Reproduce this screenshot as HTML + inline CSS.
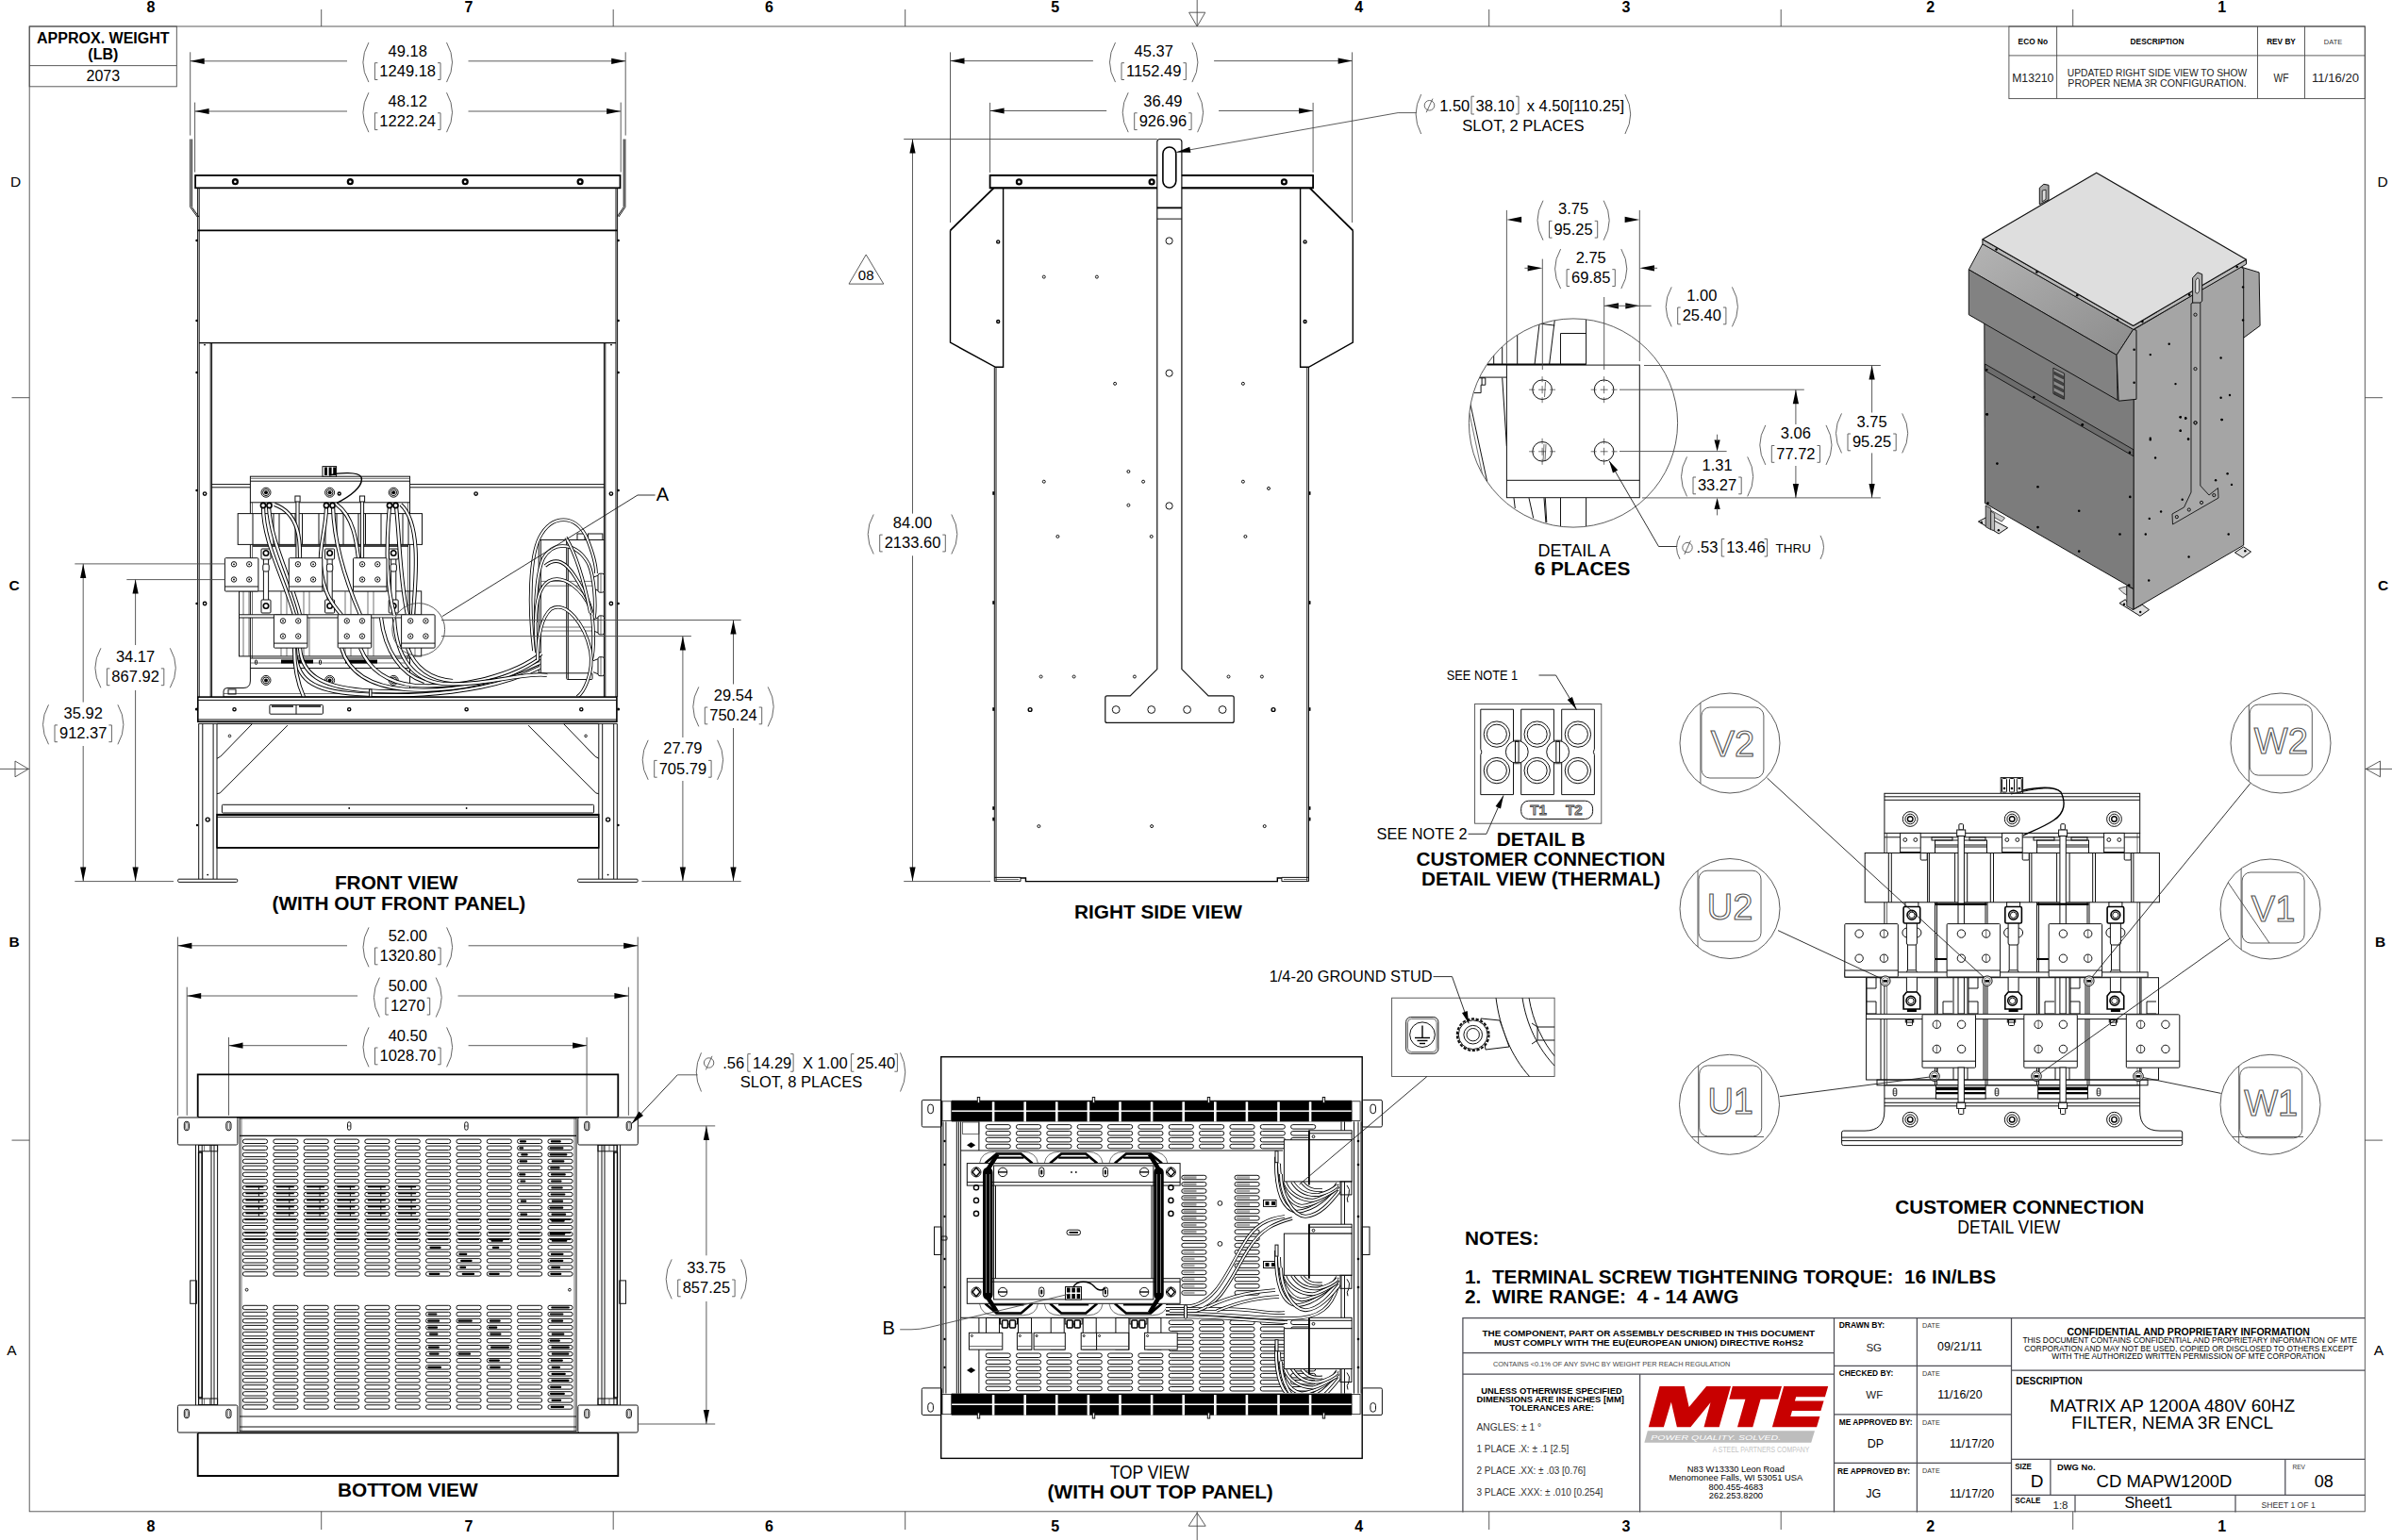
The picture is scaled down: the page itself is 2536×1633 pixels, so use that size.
<!DOCTYPE html><html><head><meta charset="utf-8"><title>CD MAPW1200D</title><style>html,body{margin:0;padding:0;background:#fff}
svg{display:block}
text{font-family:"Liberation Sans",sans-serif}
.o{fill:none;stroke:#111;stroke-width:1}
.h{fill:none;stroke:#000;stroke-width:1.8}
.m{fill:none;stroke:#000;stroke-width:1.4}
.t{fill:none;stroke:#333;stroke-width:.7}
.d{fill:none;stroke:#4a4a4a;stroke-width:.9}
.l{fill:none;stroke:#1a1a1a;stroke-width:.9}
.b{fill:none;stroke:#555;stroke-width:.9}
.a{fill:#000;stroke:none}
.k{fill:#000;stroke:none}
.w{fill:#fff;stroke:none}
.wo{fill:#fff;stroke:#111;stroke-width:1}
.wh{fill:#fff;stroke:#000;stroke-width:1.6}
.ct{fill:none;stroke:#000;stroke-width:4.4;stroke-linecap:round}
.cw{fill:none;stroke:#fff;stroke-width:2.4;stroke-linecap:round}
</style></head><body><svg width="2536" height="1633" viewBox="0 0 2536 1633"><g id="frame"><rect class="d" x="31.2" y="28" width="2476.1" height="1574.8"/><path class="d" d="M340.7 10L340.7 28"/><path class="d" d="M340.7 1602.8L340.7 1622"/><path class="d" d="M650.2 10L650.2 28"/><path class="d" d="M650.2 1602.8L650.2 1622"/><path class="d" d="M959.7 10L959.7 28"/><path class="d" d="M959.7 1602.8L959.7 1622"/><path class="d" d="M1269.2 0L1269.2 28"/><path class="d" d="M1260.6 13.2L1277.8 13.2L1269.2 28Z"/><path class="d" d="M1269.2 1602.8L1269.2 1633"/><path class="d" d="M1260.2 1618.2L1278.2 1618.2L1269.2 1604.3Z"/><path class="d" d="M1578.7 10L1578.7 28"/><path class="d" d="M1578.7 1602.8L1578.7 1622"/><path class="d" d="M1888.2 10L1888.2 28"/><path class="d" d="M1888.2 1602.8L1888.2 1622"/><path class="d" d="M2197.7 10L2197.7 28"/><path class="d" d="M2197.7 1602.8L2197.7 1622"/><path class="d" d="M12.5 421.7L31.2 421.7"/><path class="d" d="M2507.3 421.7L2526 421.7"/><path class="d" d="M0 815.4L31.2 815.4"/><path class="d" d="M16 807L16 823.8L30.2 815.4Z"/><path class="d" d="M2507.3 815.4L2536 815.4"/><path class="d" d="M2523.5 807L2523.5 823.8L2508.3 815.4Z"/><path class="d" d="M12.5 1209.1L31.2 1209.1"/><path class="d" d="M2507.3 1209.1L2526 1209.1"/><text x="160" y="12.8" font-size="16" font-weight="bold" text-anchor="middle">8</text><text x="160" y="1624.3" font-size="16" font-weight="bold" text-anchor="middle">8</text><text x="497" y="12.8" font-size="16" font-weight="bold" text-anchor="middle">7</text><text x="497" y="1624.3" font-size="16" font-weight="bold" text-anchor="middle">7</text><text x="815.5" y="12.8" font-size="16" font-weight="bold" text-anchor="middle">6</text><text x="815.5" y="1624.3" font-size="16" font-weight="bold" text-anchor="middle">6</text><text x="1118.6" y="12.8" font-size="16" font-weight="bold" text-anchor="middle">5</text><text x="1118.6" y="1624.3" font-size="16" font-weight="bold" text-anchor="middle">5</text><text x="1440.7" y="12.8" font-size="16" font-weight="bold" text-anchor="middle">4</text><text x="1440.7" y="1624.3" font-size="16" font-weight="bold" text-anchor="middle">4</text><text x="1724" y="12.8" font-size="16" font-weight="bold" text-anchor="middle">3</text><text x="1724" y="1624.3" font-size="16" font-weight="bold" text-anchor="middle">3</text><text x="2046.7" y="12.8" font-size="16" font-weight="bold" text-anchor="middle">2</text><text x="2046.7" y="1624.3" font-size="16" font-weight="bold" text-anchor="middle">2</text><text x="2355.6" y="12.8" font-size="16" font-weight="bold" text-anchor="middle">1</text><text x="2355.6" y="1624.3" font-size="16" font-weight="bold" text-anchor="middle">1</text><text x="16.5" y="198" font-size="15.5" text-anchor="middle">D</text><text x="2526" y="198" font-size="15.5" text-anchor="middle">D</text><text x="15.2" y="625.5" font-size="15.5" font-weight="bold" text-anchor="middle">C</text><text x="2526.5" y="625.5" font-size="15.5" font-weight="bold" text-anchor="middle">C</text><text x="15.2" y="1003.5" font-size="15.5" font-weight="bold" text-anchor="middle">B</text><text x="2523.7" y="1003.5" font-size="15.5" font-weight="bold" text-anchor="middle">B</text><text x="12.5" y="1436.5" font-size="15.5" text-anchor="middle">A</text><text x="2522" y="1436.5" font-size="15.5" text-anchor="middle">A</text><rect class="d" x="31.2" y="28" width="156.1" height="63.8"/><path class="d" d="M31.2 69.6L187.3 69.6"/><text x="109.3" y="46.4" font-size="16" font-weight="bold" text-anchor="middle">APPROX. WEIGHT</text><text x="109.3" y="62.5" font-size="16" font-weight="bold" text-anchor="middle">(LB)</text><text x="109.3" y="85.7" font-size="16" text-anchor="middle">2073</text><rect class="d" x="2129.9" y="28" width="377.4" height="76.6"/><path class="d" d="M2129.9 58.9L2507.3 58.9"/><path class="d" d="M2180.6 28L2180.6 104.6"/><path class="d" d="M2393.5 28L2393.5 104.6"/><path class="d" d="M2443.5 28L2443.5 104.6"/><text x="2155.3" y="47.1" font-size="8.3" font-weight="bold" text-anchor="middle" textLength="31.4" lengthAdjust="spacingAndGlyphs">ECO No</text><text x="2287" y="47.1" font-size="8.3" font-weight="bold" text-anchor="middle" textLength="56.8" lengthAdjust="spacingAndGlyphs">DESCRIPTION</text><text x="2418.5" y="47.1" font-size="8.3" font-weight="bold" text-anchor="middle" textLength="30.7" lengthAdjust="spacingAndGlyphs">REV BY</text><text x="2473.5" y="47.1" font-size="7.5" text-anchor="middle" textLength="19.3" lengthAdjust="spacingAndGlyphs" fill="#333">DATE</text><text x="2155.3" y="86.8" font-size="12" text-anchor="middle" fill="#222" lengthAdjust="spacingAndGlyphs" textLength="44.3">M13210</text><text x="2287" y="80.7" font-size="11.5" text-anchor="middle" fill="#222" lengthAdjust="spacingAndGlyphs" textLength="190.4">UPDATED RIGHT SIDE VIEW TO SHOW</text><text x="2287" y="92.1" font-size="11.5" text-anchor="middle" fill="#222" lengthAdjust="spacingAndGlyphs" textLength="189.3">PROPER NEMA 3R CONFIGURATION.</text><text x="2418.5" y="86.8" font-size="12" text-anchor="middle" fill="#222" lengthAdjust="spacingAndGlyphs" textLength="16">WF</text><text x="2476" y="86.8" font-size="12" text-anchor="middle" fill="#222" lengthAdjust="spacingAndGlyphs" textLength="50">11/16/20</text></g>
<g id="front"><path class="d" d="M201.7 55.3L201.7 143.6"/><path class="d" d="M663.2 55.3L663.2 143.6"/><path class="d" d="M206.6 108.6L206.6 182.6"/><path class="d" d="M658.2 108.6L658.2 182.6"/><path class="d" d="M201.7 64.8L368 64.8"/><path class="d" d="M496.5 64.8L663.2 64.8"/><path class="a" d="M201.7 64.8L216.7 61.7L216.7 67.9Z"/><path class="a" d="M663.2 64.8L648.2 67.9L648.2 61.7Z"/><path class="d" d="M206.6 118L368 118"/><path class="d" d="M496.5 118L658.2 118"/><path class="a" d="M206.6 118L221.6 114.9L221.6 121.1Z"/><path class="a" d="M658.2 118L643.2 121.1L643.2 114.9Z"/><text x="432.2" y="59.6" font-size="16.5" text-anchor="middle">49.18</text><text x="432.2" y="80.9" font-size="16.5" text-anchor="middle">1249.18</text><path class="b" d="M400.4 66.7H397.4V84.5H400.4"/><path class="b" d="M464 66.7H467V84.5H464"/><path class="b" d="M390.9 45.1Q378.9 66.1 390.9 87.1"/><path class="b" d="M473.5 45.1Q485.5 66.1 473.5 87.1"/><text x="432.2" y="112.7" font-size="16.5" text-anchor="middle">48.12</text><text x="432.2" y="134" font-size="16.5" text-anchor="middle">1222.24</text><path class="b" d="M400.4 119.8H397.4V137.6H400.4"/><path class="b" d="M464 119.8H467V137.6H464"/><path class="b" d="M390.9 98.2Q378.9 119.2 390.9 140.2"/><path class="b" d="M473.5 98.2Q485.5 119.2 473.5 140.2"/><rect class="h" x="207.1" y="186" width="450.4" height="13.3"/><circle class="k" cx="249.4" cy="192.7" r="3.6"/><circle class="w" cx="249.4" cy="192.7" r="1.3"/><circle class="k" cx="371.3" cy="192.7" r="3.6"/><circle class="w" cx="371.3" cy="192.7" r="1.3"/><circle class="k" cx="493.2" cy="192.7" r="3.6"/><circle class="w" cx="493.2" cy="192.7" r="1.3"/><circle class="k" cx="615.1" cy="192.7" r="3.6"/><circle class="w" cx="615.1" cy="192.7" r="1.3"/><path class="o" d="M201.7 147.5L201.7 219.6L209.2 230"/><path class="o" d="M203.4 147.5L203.4 219.6L210.9 230"/><path class="o" d="M662.9 147.5L662.9 219.6L655.9 230"/><path class="o" d="M661.2 147.5L661.2 219.6L654.2 230"/><path class="o" d="M209.6 199.3L209.6 739"/><path class="o" d="M211.2 199.3L211.2 739"/><path class="o" d="M654.6 199.3L654.6 739"/><path class="o" d="M653 199.3L653 739"/><path class="h" d="M209.6 244.3L654.6 244.3"/><path class="m" d="M211 363.6L653 363.6"/><path class="o" d="M223.2 363.6L223.2 739"/><path class="o" d="M224.6 363.6L224.6 739"/><path class="o" d="M641.8 363.6L641.8 739"/><path class="o" d="M640.4 363.6L640.4 739"/><circle class="k" cx="208.6" cy="255" r="1.3"/><circle class="k" cx="655.6" cy="255" r="1.3"/><circle class="k" cx="208.6" cy="340" r="1.3"/><circle class="k" cx="655.6" cy="340" r="1.3"/><circle class="k" cx="208.6" cy="395" r="1.3"/><circle class="k" cx="655.6" cy="395" r="1.3"/><circle class="k" cx="208.6" cy="520" r="1.3"/><circle class="k" cx="655.6" cy="520" r="1.3"/><circle class="k" cx="208.6" cy="640" r="1.3"/><circle class="k" cx="655.6" cy="640" r="1.3"/><circle class="k" cx="217" cy="365.6" r="0.9"/><circle class="k" cx="648" cy="365.6" r="0.9"/><path class="o" d="M224 513.6L265.4 513.6"/><path class="o" d="M434.5 513.6L641 513.6"/><path class="o" d="M224 516.8L265.4 516.8"/><path class="o" d="M434.5 516.8L641 516.8"/><circle class="m" cx="217.1" cy="523.6" r="1.7"/><circle class="m" cx="504.6" cy="523.6" r="1.7"/><circle class="m" cx="647.9" cy="523.6" r="1.7"/><circle class="m" cx="217.1" cy="640" r="1.7"/><circle class="m" cx="647.9" cy="640" r="1.7"/><rect class="wo" x="571.2" y="572.5" width="29.5" height="141.3"/><path class="o" d="M573.3 572.5L573.3 713.8"/><path class="o" d="M600.7 572.5L641 572.5"/><path class="o" d="M602.3 572.5L602.3 720"/><rect class="o" x="600.7" y="713.8" width="27.3" height="6.7" rx="1"/><path class="t" d="M573.3 616.4L630 616.4"/><path class="t" d="M573.3 621.2L630 621.2"/><path class="t" d="M573.3 665L630 665"/><path class="t" d="M573.3 669L630 669"/><rect class="o" x="612" y="566" width="8" height="6.5"/><rect class="o" x="623.4" y="566" width="15.5" height="6.5"/><rect class="wo" x="634" y="608.2" width="6.5" height="20" rx="2"/><path class="o" d="M629 612.2L634 610.2"/><path class="o" d="M629 624.2L634 626.2"/><path class="t" d="M637 608.2L637 628.2"/><rect class="wo" x="634" y="652.9" width="6.5" height="20" rx="2"/><path class="o" d="M629 656.9L634 654.9"/><path class="o" d="M629 668.9L634 670.9"/><path class="t" d="M637 652.9L637 672.9"/><rect class="wo" x="634" y="696.7" width="6.5" height="20" rx="2"/><path class="o" d="M629 700.7L634 698.7"/><path class="o" d="M629 712.7L634 714.7"/><path class="t" d="M637 696.7L637 716.7"/><rect class="wo" x="265.4" y="505.2" width="169.1" height="27.6"/><path class="o" d="M265.4 510.2L434.5 510.2"/><path class="t" d="M265.4 507.3L434.5 507.3"/><rect class="wo" x="342" y="494.6" width="14.6" height="10.6"/><rect class="k" x="344" y="495.5" width="3" height="8.5"/><rect class="k" x="348.6" y="495.5" width="3" height="8.5"/><rect class="k" x="353.2" y="495.5" width="3" height="8.5"/><path class="m" d="M349 504C360 501 380 500 383 506C386 516 370 527 357 533.5"/><circle class="m" cx="359.7" cy="523.5" r="1.5"/><circle class="wo" cx="282" cy="522.2" r="5"/><circle class="wo" cx="282" cy="522.2" r="3.4"/><circle class="k" cx="282" cy="522.2" r="2"/><circle class="wo" cx="349.6" cy="522.2" r="5"/><circle class="wo" cx="349.6" cy="522.2" r="3.4"/><circle class="k" cx="349.6" cy="522.2" r="2"/><circle class="wo" cx="417.2" cy="522.2" r="5"/><circle class="wo" cx="417.2" cy="522.2" r="3.4"/><circle class="k" cx="417.2" cy="522.2" r="2"/><path class="o" d="M265.4 532.8L265.4 698"/><path class="o" d="M434.5 532.8L434.5 698"/><path class="t" d="M267.5 532.8L267.5 698"/><path class="t" d="M432.4 532.8L432.4 698"/><rect class="wo" x="252.2" y="544.6" width="195.3" height="32.8"/><path class="o" d="M268 544.6L268 577.4"/><path class="o" d="M290 544.6L290 577.4"/><path class="o" d="M296 544.6L296 577.4"/><path class="o" d="M313 544.6L313 577.4"/><path class="o" d="M320.5 544.6L320.5 577.4"/><path class="o" d="M338 544.6L338 577.4"/><path class="o" d="M345 544.6L345 577.4"/><path class="o" d="M357 544.6L357 577.4"/><path class="o" d="M364 544.6L364 577.4"/><path class="o" d="M380 544.6L380 577.4"/><path class="o" d="M387.5 544.6L387.5 577.4"/><path class="o" d="M404 544.6L404 577.4"/><path class="o" d="M411 544.6L411 577.4"/><path class="o" d="M427 544.6L427 577.4"/><path class="o" d="M433 544.6L433 577.4"/><path class="m" d="M268 579L433 579"/><rect class="wo" x="313.9" y="528" width="3.2" height="64"/><rect class="wo" x="312.9" y="526" width="5.2" height="6"/><rect class="wo" x="382.4" y="528" width="3.2" height="64"/><rect class="wo" x="381.4" y="526" width="5.2" height="6"/><rect class="o" x="253.5" y="626.9" width="193.2" height="69"/><path class="t" d="M258 627L258 696"/><path class="t" d="M264 627L264 696"/><path class="t" d="M298 627L298 696"/><path class="t" d="M304 627L304 696"/><path class="t" d="M322 627L322 696"/><path class="t" d="M328 627L328 696"/><path class="t" d="M366 627L366 696"/><path class="t" d="M372 627L372 696"/><path class="t" d="M390 627L390 696"/><path class="t" d="M396 627L396 696"/><path class="t" d="M434 627L434 696"/><path class="t" d="M440 627L440 696"/><rect class="wo" x="279.4" y="590" width="5.2" height="52"/><rect class="wo" x="277" y="582" width="10" height="11" rx="1"/><circle class="wh" cx="282" cy="586.5" r="2.7"/><rect class="wo" x="277" y="636" width="10" height="14" rx="1"/><circle class="wh" cx="282" cy="642.5" r="2.7"/><rect class="wo" x="278.8" y="598" width="6.4" height="8" rx="2"/><rect class="wo" x="347" y="590" width="5.2" height="52"/><rect class="wo" x="344.6" y="582" width="10" height="11" rx="1"/><circle class="wh" cx="349.6" cy="586.5" r="2.7"/><rect class="wo" x="344.6" y="636" width="10" height="14" rx="1"/><circle class="wh" cx="349.6" cy="642.5" r="2.7"/><rect class="wo" x="346.4" y="598" width="6.4" height="8" rx="2"/><rect class="wo" x="414.6" y="590" width="5.2" height="52"/><rect class="wo" x="412.2" y="582" width="10" height="11" rx="1"/><circle class="wh" cx="417.2" cy="586.5" r="2.7"/><rect class="wo" x="412.2" y="636" width="10" height="14" rx="1"/><circle class="wh" cx="417.2" cy="642.5" r="2.7"/><rect class="wo" x="414" y="598" width="6.4" height="8" rx="2"/><rect class="wo" x="253.5" y="651.8" width="193.2" height="3.2"/><path class="wo" d="M265.4 698H434.5V739H237V733Q237 729.5 241 729.5H258Q265.4 729.5 265.4 722Z"/><path class="t" d="M265.4 703L434.5 703"/><path class="o" d="M265.4 708.5L434.5 708.5"/><path class="t" d="M237 735.5L434.5 735.5"/><circle class="wo" cx="282" cy="721.4" r="5"/><circle class="wo" cx="282" cy="721.4" r="3.4"/><circle class="k" cx="282" cy="721.4" r="2"/><circle class="wo" cx="349.6" cy="721.4" r="5"/><circle class="wo" cx="349.6" cy="721.4" r="3.4"/><circle class="k" cx="349.6" cy="721.4" r="2"/><circle class="wo" cx="417.2" cy="721.4" r="5"/><circle class="wo" cx="417.2" cy="721.4" r="3.4"/><circle class="k" cx="417.2" cy="721.4" r="2"/><rect class="k" x="298" y="699.5" width="34" height="4"/><rect class="k" x="366" y="699.5" width="34" height="4"/><rect class="o" x="242" y="731" width="8" height="5"/><rect class="o" x="270.5" y="700" width="2" height="4.5" rx="1"/><rect class="o" x="338.5" y="700" width="2" height="4.5" rx="1"/><path d="M279 537C279 575 300 610 312 652" fill="none" stroke="#000" stroke-width="4.2"/><path d="M279 537C279 575 300 610 312 652" fill="none" stroke="#fff" stroke-width="2.3"/><path d="M285 537C287 575 308 612 318 652" fill="none" stroke="#000" stroke-width="4.2"/><path d="M285 537C287 575 308 612 318 652" fill="none" stroke="#fff" stroke-width="2.3"/><path d="M291 535C320 545 318 580 318 592" fill="none" stroke="#000" stroke-width="4.2"/><path d="M291 535C320 545 318 580 318 592" fill="none" stroke="#fff" stroke-width="2.3"/><path d="M346 537C346 560 338 580 340 600C343 630 352 640 362 652" fill="none" stroke="#000" stroke-width="4.2"/><path d="M346 537C346 560 338 580 340 600C343 630 352 640 362 652" fill="none" stroke="#fff" stroke-width="2.3"/><path d="M353 537C354 575 366 615 382 652" fill="none" stroke="#000" stroke-width="4.2"/><path d="M353 537C354 575 366 615 382 652" fill="none" stroke="#fff" stroke-width="2.3"/><path d="M357 535C375 548 378 575 380 592" fill="none" stroke="#000" stroke-width="4.2"/><path d="M357 535C375 548 378 575 380 592" fill="none" stroke="#fff" stroke-width="2.3"/><path d="M413 537C410 570 408 615 418 652" fill="none" stroke="#000" stroke-width="4.2"/><path d="M413 537C410 570 408 615 418 652" fill="none" stroke="#fff" stroke-width="2.3"/><path d="M420 537C424 575 424 615 432 652" fill="none" stroke="#000" stroke-width="4.2"/><path d="M420 537C424 575 424 615 432 652" fill="none" stroke="#fff" stroke-width="2.3"/><path d="M425 535C448 556 440 620 438 652" fill="none" stroke="#000" stroke-width="4.2"/><path d="M425 535C448 556 440 620 438 652" fill="none" stroke="#fff" stroke-width="2.3"/><circle class="wh" cx="279" cy="536" r="2.6"/><circle class="wh" cx="285.5" cy="536" r="2.6"/><circle class="wh" cx="346" cy="536" r="2.6"/><circle class="wh" cx="352.5" cy="536" r="2.6"/><circle class="wh" cx="413" cy="536" r="2.6"/><circle class="wh" cx="419.5" cy="536" r="2.6"/><rect class="wo" x="238.4" y="591.7" width="35.5" height="35.3" rx="1"/><path class="o" d="M238.4 622L273.9 622"/><circle class="wo" cx="248" cy="598.3" r="2.7"/><circle class="k" cx="248" cy="598.3" r="0.9"/><circle class="wo" cx="248" cy="614.5" r="2.7"/><circle class="k" cx="248" cy="614.5" r="0.9"/><circle class="wo" cx="264.2" cy="598.3" r="2.7"/><circle class="k" cx="264.2" cy="598.3" r="0.9"/><circle class="wo" cx="264.2" cy="614.5" r="2.7"/><circle class="k" cx="264.2" cy="614.5" r="0.9"/><rect class="wo" x="306.3" y="591.7" width="35.5" height="35.3" rx="1"/><path class="o" d="M306.3 622L341.8 622"/><circle class="wo" cx="315.9" cy="598.3" r="2.7"/><circle class="k" cx="315.9" cy="598.3" r="0.9"/><circle class="wo" cx="315.9" cy="614.5" r="2.7"/><circle class="k" cx="315.9" cy="614.5" r="0.9"/><circle class="wo" cx="332.1" cy="598.3" r="2.7"/><circle class="k" cx="332.1" cy="598.3" r="0.9"/><circle class="wo" cx="332.1" cy="614.5" r="2.7"/><circle class="k" cx="332.1" cy="614.5" r="0.9"/><rect class="wo" x="374.5" y="591.7" width="35.5" height="35.3" rx="1"/><path class="o" d="M374.5 622L410 622"/><circle class="wo" cx="384.1" cy="598.3" r="2.7"/><circle class="k" cx="384.1" cy="598.3" r="0.9"/><circle class="wo" cx="384.1" cy="614.5" r="2.7"/><circle class="k" cx="384.1" cy="614.5" r="0.9"/><circle class="wo" cx="400.3" cy="598.3" r="2.7"/><circle class="k" cx="400.3" cy="598.3" r="0.9"/><circle class="wo" cx="400.3" cy="614.5" r="2.7"/><circle class="k" cx="400.3" cy="614.5" r="0.9"/><path d="M313 687C313 720 330 733 380 736C440 740 520 735 572 708" fill="none" stroke="#000" stroke-width="4.2"/><path d="M313 687C313 720 330 733 380 736C440 740 520 735 572 708" fill="none" stroke="#fff" stroke-width="2.3"/><path d="M318 687C320 715 340 728 385 732C450 737 520 728 572 703" fill="none" stroke="#000" stroke-width="4.2"/><path d="M318 687C320 715 340 728 385 732C450 737 520 728 572 703" fill="none" stroke="#fff" stroke-width="2.3"/><path d="M362 687C370 715 395 728 430 731C480 735 540 722 572 698" fill="none" stroke="#000" stroke-width="4.2"/><path d="M362 687C370 715 395 728 430 731C480 735 540 722 572 698" fill="none" stroke="#fff" stroke-width="2.3"/><path d="M382 687C392 712 412 724 440 727C490 730 545 716 574 693" fill="none" stroke="#000" stroke-width="4.2"/><path d="M382 687C392 712 412 724 440 727C490 730 545 716 574 693" fill="none" stroke="#fff" stroke-width="2.3"/><path d="M418 655C420 700 440 722 470 725C510 728 560 712 580 716" fill="none" stroke="#000" stroke-width="4.2"/><path d="M418 655C420 700 440 722 470 725C510 728 560 712 580 716" fill="none" stroke="#fff" stroke-width="2.3"/><path d="M432 687C440 708 455 720 480 722" fill="none" stroke="#000" stroke-width="4.2"/><path d="M432 687C440 708 455 720 480 722" fill="none" stroke="#fff" stroke-width="2.3"/><path d="M404 655C408 690 425 715 450 723" fill="none" stroke="#000" stroke-width="4.2"/><path d="M404 655C408 690 425 715 450 723" fill="none" stroke="#fff" stroke-width="2.3"/><path d="M312 687C312 715 318 730 322 739" fill="none" stroke="#000" stroke-width="4.2"/><path d="M312 687C312 715 318 730 322 739" fill="none" stroke="#fff" stroke-width="2.3"/><rect class="wo" x="290.4" y="651.8" width="35.5" height="35.3" rx="1"/><path class="o" d="M290.4 682.1L325.9 682.1"/><circle class="wo" cx="300" cy="658.4" r="2.7"/><circle class="k" cx="300" cy="658.4" r="0.9"/><circle class="wo" cx="300" cy="674.6" r="2.7"/><circle class="k" cx="300" cy="674.6" r="0.9"/><circle class="wo" cx="316.2" cy="658.4" r="2.7"/><circle class="k" cx="316.2" cy="658.4" r="0.9"/><circle class="wo" cx="316.2" cy="674.6" r="2.7"/><circle class="k" cx="316.2" cy="674.6" r="0.9"/><rect class="wo" x="358.2" y="651.8" width="35.5" height="35.3" rx="1"/><path class="o" d="M358.2 682.1L393.7 682.1"/><circle class="wo" cx="367.8" cy="658.4" r="2.7"/><circle class="k" cx="367.8" cy="658.4" r="0.9"/><circle class="wo" cx="367.8" cy="674.6" r="2.7"/><circle class="k" cx="367.8" cy="674.6" r="0.9"/><circle class="wo" cx="384" cy="658.4" r="2.7"/><circle class="k" cx="384" cy="658.4" r="0.9"/><circle class="wo" cx="384" cy="674.6" r="2.7"/><circle class="k" cx="384" cy="674.6" r="0.9"/><rect class="wo" x="425.6" y="651.8" width="35.5" height="35.3" rx="1"/><path class="o" d="M425.6 682.1L461.1 682.1"/><circle class="wo" cx="435.2" cy="658.4" r="2.7"/><circle class="k" cx="435.2" cy="658.4" r="0.9"/><circle class="wo" cx="435.2" cy="674.6" r="2.7"/><circle class="k" cx="435.2" cy="674.6" r="0.9"/><circle class="wo" cx="451.4" cy="658.4" r="2.7"/><circle class="k" cx="451.4" cy="658.4" r="0.9"/><circle class="wo" cx="451.4" cy="674.6" r="2.7"/><circle class="k" cx="451.4" cy="674.6" r="0.9"/><rect class="wo" x="391.5" y="731" width="2.5" height="10"/><path d="M566 690C560 640 562 590 572 570C585 545 610 545 622 570C630 590 632 600 632 608" fill="none" stroke="#000" stroke-width="3.6"/><path d="M566 690C560 640 562 590 572 570C585 545 610 545 622 570C630 590 632 600 632 608" fill="none" stroke="#fff" stroke-width="1.9"/><path d="M569 692C566 650 568 610 576 592C588 572 612 576 624 598C630 612 632 640 630 655" fill="none" stroke="#000" stroke-width="3.6"/><path d="M569 692C566 650 568 610 576 592C588 572 612 576 624 598C630 612 632 640 630 655" fill="none" stroke="#fff" stroke-width="1.9"/><path d="M568 660C568 640 572 622 582 616C598 608 618 626 626 645C630 660 630 690 627 700" fill="none" stroke="#000" stroke-width="3.6"/><path d="M568 660C568 640 572 622 582 616C598 608 618 626 626 645C630 660 630 690 627 700" fill="none" stroke="#fff" stroke-width="1.9"/><path d="M570 700C570 675 574 655 584 646C600 636 620 662 626 690C630 715 618 735 612 739" fill="none" stroke="#000" stroke-width="3.6"/><path d="M570 700C570 675 574 655 584 646C600 636 620 662 626 690C630 715 618 735 612 739" fill="none" stroke="#fff" stroke-width="1.9"/><path d="M578 600C590 590 600 596 610 612C620 628 626 640 628 652" fill="none" stroke="#000" stroke-width="3.6"/><path d="M578 600C590 590 600 596 610 612C620 628 626 640 628 652" fill="none" stroke="#fff" stroke-width="1.9"/><path d="M600 570C612 590 620 620 626 650" fill="none" stroke="#000" stroke-width="3.6"/><path d="M600 570C612 590 620 620 626 650" fill="none" stroke="#fff" stroke-width="1.9"/><rect class="wh" x="209.8" y="739.1" width="444.1" height="26.1"/><path class="o" d="M209.8 742.4L653.9 742.4"/><path class="o" d="M209.8 763L653.9 763"/><path class="o" d="M210.4 767.4L654.3 767.4"/><circle class="m" cx="248.5" cy="752.2" r="1.6"/><circle class="m" cx="370.2" cy="752.2" r="1.6"/><circle class="m" cx="494.6" cy="752.2" r="1.6"/><circle class="m" cx="616.3" cy="752.2" r="1.6"/><rect class="o" x="285.9" y="747.4" width="56.5" height="9.8" rx="1"/><path class="o" d="M314 747.4L314 757.2"/><rect class="k" x="288" y="748.3" width="23" height="1.5"/><rect class="k" x="317" y="748.3" width="23" height="1.5"/><circle class="k" cx="208.3" cy="752" r="1.5"/><circle class="k" cx="655.6" cy="752" r="1.5"/><path class="o" d="M210.7 767.4L210.7 932.2"/><path class="o" d="M214.8 767.4L214.8 932.2"/><path class="o" d="M226.1 767.4L226.1 932.2"/><path class="o" d="M230 767.4L230 932.2"/><path class="o" d="M634.8 767.4L634.8 932.2"/><path class="o" d="M638.7 767.4L638.7 932.2"/><path class="o" d="M650.7 767.4L650.7 932.2"/><path class="o" d="M654.3 767.4L654.3 932.2"/><rect class="o" x="188.7" y="932.2" width="63" height="3.2" rx="1"/><rect class="o" x="612.6" y="932.2" width="63.5" height="3.2" rx="1"/><path class="o" d="M230 767.4L267.6 767.4L233.7 802.2L230 804.3"/><path class="o" d="M305 769.1L233.3 840.9L230 841.7"/><path class="o" d="M634.8 767.4L597.4 767.4L631.1 802.2L634.8 804.3"/><path class="o" d="M560 769.1L631.7 840.9L634.8 841.7"/><circle class="o" cx="243.5" cy="780.4" r="1.3"/><circle class="o" cx="621.1" cy="780.4" r="1.3"/><rect class="o" x="235.4" y="853.3" width="394.2" height="8.7" rx="1"/><rect class="m" x="230" y="863.6" width="404.8" height="35.3"/><path class="o" d="M230 866.3L634.8 866.3"/><path class="h" d="M230 864L634.8 864"/><path class="h" d="M230 898.9L634.8 898.9"/><circle class="k" cx="370.2" cy="857" r="0.9"/><circle class="k" cx="494.6" cy="857" r="0.9"/><circle class="m" cx="220.2" cy="869.1" r="2"/><circle class="k" cx="220.2" cy="927.6" r="0.9"/><circle class="m" cx="644.6" cy="869.1" r="2"/><circle class="k" cx="644.6" cy="927.6" r="0.9"/><circle class="k" cx="209" cy="875" r="1.2"/><circle class="k" cx="655.5" cy="875" r="1.2"/><circle class="d" cx="443.7" cy="667.5" r="27.9"/><path class="l" d="M694.6 525L676 525L468.9 653.6"/><text x="702.5" y="530.6" font-size="20" text-anchor="middle">A</text><path class="d" d="M79.3 597.9L238.6 597.9"/><path class="d" d="M134.3 614.6L238.6 614.6"/><path class="d" d="M79.3 934.6L184 934.6"/><path class="d" d="M88.2 597.9L88.2 744.6"/><path class="d" d="M88.2 791L88.2 934.6"/><path class="a" d="M88.2 597.9L91.3 612.9L85.1 612.9Z"/><path class="a" d="M88.2 934.6L85.1 919.6L91.3 919.6Z"/><path class="d" d="M143.6 614.6L143.6 684"/><path class="d" d="M143.6 732L143.6 934.6"/><path class="a" d="M143.6 614.6L146.7 629.6L140.5 629.6Z"/><path class="a" d="M143.6 934.6L140.5 919.6L146.7 919.6Z"/><text x="143.6" y="701.8" font-size="16.5" text-anchor="middle">34.17</text><text x="143.6" y="723.1" font-size="16.5" text-anchor="middle">867.92</text><path class="b" d="M116.4 708.9H113.4V726.7H116.4"/><path class="b" d="M170.8 708.9H173.8V726.7H170.8"/><path class="b" d="M106.9 687.3Q94.9 708.3 106.9 729.3"/><path class="b" d="M180.3 687.3Q192.3 708.3 180.3 729.3"/><text x="88.2" y="761.8" font-size="16.5" text-anchor="middle">35.92</text><text x="88.2" y="783.1" font-size="16.5" text-anchor="middle">912.37</text><path class="b" d="M61 768.9H58V786.7H61"/><path class="b" d="M115.4 768.9H118.4V786.7H115.4"/><path class="b" d="M51.5 747.3Q39.5 768.3 51.5 789.3"/><path class="b" d="M124.9 747.3Q136.9 768.3 124.9 789.3"/><path class="d" d="M467.9 657.5L785.7 657.5"/><path class="d" d="M467.9 674.6L732.9 674.6"/><path class="d" d="M680.4 934.6L785.7 934.6"/><path class="d" d="M777.5 657.5L777.5 725.5"/><path class="d" d="M777.5 772L777.5 934.6"/><path class="a" d="M777.5 657.5L780.6 672.5L774.4 672.5Z"/><path class="a" d="M777.5 934.6L774.4 919.6L780.6 919.6Z"/><path class="d" d="M723.9 674.6L723.9 782"/><path class="d" d="M723.9 828L723.9 934.6"/><path class="a" d="M723.9 674.6L727 689.6L720.8 689.6Z"/><path class="a" d="M723.9 934.6L720.8 919.6L727 919.6Z"/><text x="777.5" y="742.9" font-size="16.5" text-anchor="middle">29.54</text><text x="777.5" y="764.2" font-size="16.5" text-anchor="middle">750.24</text><path class="b" d="M750.3 750H747.3V767.8H750.3"/><path class="b" d="M804.7 750H807.7V767.8H804.7"/><path class="b" d="M740.8 728.4Q728.8 749.4 740.8 770.4"/><path class="b" d="M814.2 728.4Q826.2 749.4 814.2 770.4"/><text x="723.9" y="799.3" font-size="16.5" text-anchor="middle">27.79</text><text x="723.9" y="820.6" font-size="16.5" text-anchor="middle">705.79</text><path class="b" d="M696.7 806.4H693.7V824.2H696.7"/><path class="b" d="M751.1 806.4H754.1V824.2H751.1"/><path class="b" d="M687.2 784.8Q675.2 805.8 687.2 826.8"/><path class="b" d="M760.6 784.8Q772.6 805.8 760.6 826.8"/><text x="420.2" y="943" font-size="20.8" font-weight="bold" text-anchor="middle">FRONT VIEW</text><text x="422.9" y="965.4" font-size="20.8" font-weight="bold" text-anchor="middle">(WITH OUT FRONT PANEL)</text></g>
<g id="side"><path class="d" d="M1007.5 55.4L1007.5 236"/><path class="d" d="M1433.6 55.4L1433.6 236"/><path class="d" d="M1049.6 108.9L1049.6 182.9"/><path class="d" d="M1392.1 108.9L1392.1 182.9"/><path class="d" d="M1007.5 64.6L1158.9 64.6"/><path class="d" d="M1287.1 64.6L1433.6 64.6"/><path class="a" d="M1007.5 64.6L1022.5 61.5L1022.5 67.7Z"/><path class="a" d="M1433.6 64.6L1418.6 67.7L1418.6 61.5Z"/><path class="d" d="M1049.6 117.5L1173.2 117.5"/><path class="d" d="M1292.1 117.5L1392.1 117.5"/><path class="a" d="M1049.6 117.5L1064.6 114.4L1064.6 120.6Z"/><path class="a" d="M1392.1 117.5L1377.1 120.6L1377.1 114.4Z"/><text x="1223.2" y="59.6" font-size="16.5" text-anchor="middle">45.37</text><text x="1223.2" y="80.9" font-size="16.5" text-anchor="middle">1152.49</text><path class="b" d="M1192 66.7H1189V84.5H1192"/><path class="b" d="M1254.4 66.7H1257.4V84.5H1254.4"/><path class="b" d="M1182.5 45.1Q1170.5 66.1 1182.5 87.1"/><path class="b" d="M1263.9 45.1Q1275.9 66.1 1263.9 87.1"/><text x="1232.9" y="112.7" font-size="16.5" text-anchor="middle">36.49</text><text x="1232.9" y="134" font-size="16.5" text-anchor="middle">926.96</text><path class="b" d="M1205.7 119.8H1202.7V137.6H1205.7"/><path class="b" d="M1260.1 119.8H1263.1V137.6H1260.1"/><path class="b" d="M1196.2 98.2Q1184.2 119.2 1196.2 140.2"/><path class="b" d="M1269.6 98.2Q1281.6 119.2 1269.6 140.2"/><rect class="h" x="1049.6" y="186" width="342.5" height="13.3"/><circle class="k" cx="1080.4" cy="192.9" r="3.6"/><circle class="w" cx="1080.4" cy="192.9" r="1.3"/><circle class="k" cx="1221.1" cy="192.9" r="3.6"/><circle class="w" cx="1221.1" cy="192.9" r="1.3"/><circle class="k" cx="1361.4" cy="192.9" r="3.6"/><circle class="w" cx="1361.4" cy="192.9" r="1.3"/><path class="h" d="M1053.6 199.3L1007.5 244.3"/><path class="m" d="M1007.5 244.3L1007.5 363.2L1055.4 389.3L1063.6 389.3L1063.6 199.3"/><path class="h" d="M1388.6 199.3L1434.3 244.3"/><path class="m" d="M1434.3 244.3L1434.3 363.2L1387.5 389.3L1378.6 389.3L1378.6 199.3"/><circle class="m" cx="1058.2" cy="256.4" r="1.5"/><circle class="m" cx="1383.6" cy="256.4" r="1.5"/><circle class="m" cx="1058.2" cy="341" r="1.5"/><circle class="m" cx="1383.6" cy="341" r="1.5"/><path class="o" d="M1054.3 389.3L1054.3 934.6"/><path class="o" d="M1056 389.3L1056 934.6"/><path class="o" d="M1387.5 389.3L1387.5 934.6"/><path class="o" d="M1385.8 389.3L1385.8 934.6"/><path class="o" d="M1054.3 930.4L1082 930.4L1082 934.6L1054.3 934.6"/><path class="t" d="M1056 932.5L1080 932.5"/><path class="o" d="M1387.5 930.4L1358.9 930.4L1358.9 934.6L1387.5 934.6"/><path class="t" d="M1361 932.5L1386 932.5"/><path class="m" d="M1082 931L1087.5 931L1087.5 934.6L1354.3 934.6L1354.3 931L1358.9 931"/><rect class="k" x="1052.3" y="521.2" width="2" height="3.6"/><rect class="k" x="1387.5" y="521.2" width="2" height="3.6"/><rect class="k" x="1052.3" y="637.2" width="2" height="3.6"/><rect class="k" x="1387.5" y="637.2" width="2" height="3.6"/><rect class="k" x="1052.3" y="750.2" width="2" height="3.6"/><rect class="k" x="1387.5" y="750.2" width="2" height="3.6"/><rect class="k" x="1052.3" y="855.2" width="2" height="3.6"/><rect class="k" x="1387.5" y="855.2" width="2" height="3.6"/><rect class="k" x="1052.3" y="866.8" width="2" height="3.6"/><rect class="k" x="1387.5" y="866.8" width="2" height="3.6"/><path class="wo" style="stroke-width:1.2" d="M1226.8 709.6V150.5Q1226.8 147.5 1229.8 147.5H1249.9Q1252.9 147.5 1252.9 150.5V709.6L1281.1 737.9H1306.2Q1308.2 737.9 1308.2 739.9V764.4Q1308.2 766.4 1306.2 766.4H1173.8Q1171.8 766.4 1171.8 764.4V739.9Q1171.8 737.9 1173.8 737.9H1198.2Z"/><path class="h" d="M1049.6 186L1226.8 186"/><path class="h" d="M1049.6 199.3L1226.8 199.3"/><path class="h" d="M1252.9 186L1392.1 186"/><path class="h" d="M1252.9 199.3L1392.1 199.3"/><rect class="wh" x="1232.9" y="156" width="13.9" height="43" rx="6.9"/><path class="h" d="M1226.8 220.4L1252.9 220.4"/><path class="o" d="M1226.8 232.1L1252.9 232.1"/><circle class="o" cx="1239.6" cy="255.4" r="3.6"/><circle class="o" cx="1239.6" cy="395.7" r="3.6"/><circle class="o" cx="1239.6" cy="536.4" r="3.6"/><circle class="o" cx="1183.2" cy="752.5" r="3.9"/><circle class="o" cx="1220.7" cy="752.5" r="3.9"/><circle class="o" cx="1258.6" cy="752.5" r="3.9"/><circle class="o" cx="1296.1" cy="752.5" r="3.9"/><circle class="o" cx="1106.8" cy="293.6" r="1.5"/><circle class="o" cx="1162.9" cy="293.6" r="1.5"/><circle class="o" cx="1182.1" cy="406.8" r="1.5"/><circle class="o" cx="1317.9" cy="406.8" r="1.5"/><circle class="o" cx="1196.4" cy="500" r="1.5"/><circle class="o" cx="1106.8" cy="510.7" r="1.5"/><circle class="o" cx="1212.1" cy="510.7" r="1.5"/><circle class="o" cx="1317.9" cy="510.7" r="1.5"/><circle class="o" cx="1345" cy="517.9" r="1.5"/><circle class="o" cx="1196.4" cy="535.7" r="1.5"/><circle class="o" cx="1121.4" cy="568.9" r="1.5"/><circle class="o" cx="1220.7" cy="568.9" r="1.5"/><circle class="o" cx="1320.4" cy="568.9" r="1.5"/><circle class="o" cx="1103.6" cy="717.5" r="1.5"/><circle class="o" cx="1138.6" cy="717.5" r="1.5"/><circle class="o" cx="1202.9" cy="717.5" r="1.5"/><circle class="o" cx="1302.5" cy="717.5" r="1.5"/><circle class="o" cx="1337.9" cy="717.5" r="1.5"/><circle class="o" cx="1101.4" cy="876.1" r="1.5"/><circle class="o" cx="1221.1" cy="876.1" r="1.5"/><circle class="o" cx="1340.7" cy="876.1" r="1.5"/><circle class="m" cx="1092.1" cy="752.5" r="1.9"/><circle class="m" cx="1350" cy="752.5" r="1.9"/><path class="d" d="M958.2 147.5L1226.8 147.5"/><path class="d" d="M958.2 934.6L1050 934.6"/><path class="d" d="M967.5 147.5L967.5 544.6"/><path class="d" d="M967.5 589.3L967.5 934.6"/><path class="a" d="M967.5 147.5L970.6 162.5L964.4 162.5Z"/><path class="a" d="M967.5 934.6L964.4 919.6L970.6 919.6Z"/><text x="967.5" y="560" font-size="16.5" text-anchor="middle">84.00</text><text x="967.5" y="581.3" font-size="16.5" text-anchor="middle">2133.60</text><path class="b" d="M935.7 567.1H932.7V584.9H935.7"/><path class="b" d="M999.3 567.1H1002.3V584.9H999.3"/><path class="b" d="M926.2 545.5Q914.2 566.5 926.2 587.5"/><path class="b" d="M1008.8 545.5Q1020.8 566.5 1008.8 587.5"/><path class="d" d="M918.2 270L900 301.1L936.8 301.1Z"/><text x="918.2" y="297.3" font-size="15" text-anchor="middle">08</text><path class="d" d="M1247.1 161.4L1482.1 119.6L1501.8 119.6"/><path class="a" d="M1247.1 161.4L1261.3 155.7L1262.4 161.8Z"/><path class="b" d="M1506.7 100.1Q1495.5 121 1506.7 142"/><path class="b" d="M1722.9 100.1Q1734.5 121 1722.9 142"/><circle class="b" cx="1515.5" cy="111.8" r="5.3"/><path class="b" d="M1512.2 119.2L1519 104.6"/><text x="1526.2" y="117.5" font-size="16.5">1.50</text><text x="1564.5" y="117.5" font-size="16.5">38.10</text><path class="b" d="M1563 102.2H1560V121H1563M1607 102.2H1610V121H1607"/><text x="1618.7" y="117.5" font-size="16.5">x 4.50[110.25]</text><text x="1614.8" y="138.5" font-size="16.5" text-anchor="middle">SLOT, 2 PLACES</text><text x="1227.9" y="973.9" font-size="20.8" font-weight="bold" text-anchor="middle">RIGHT SIDE VIEW</text></g>
<g id="detaila"><clipPath id="ca"><circle cx="1668" cy="448.5" r="110.6"/></clipPath><g clip-path="url(#ca)"><path class="h" d="M1576.7 386.5L1681.6 386.5"/><path class="o" d="M1608.7 355.4L1608.7 386.5"/><path class="o" d="M1632.3 341.3L1627 386.5"/><path class="o" d="M1648.3 339.4L1642.6 386.5"/><path class="o" d="M1681.6 337.5L1681.6 386.5"/><path class="o" d="M1583.7 375.2L1583.7 386.5"/><path class="o" d="M1592.7 367.7L1592.7 386.5"/><path class="o" d="M1654.5 386.5L1654.5 353.5L1681.6 353.5"/><path class="o" d="M1632.3 343.2L1648.3 345.1"/><path class="o" d="M1558.8 400.1L1597.4 400.1"/><path class="o" d="M1568.2 400.8L1574.8 400.8L1574.8 408.2L1570.1 408.2L1570.1 416.6L1562.6 416.6"/><path class="o" d="M1571.1 400.8L1571.1 408.2"/><path class="o" d="M1558.8 427.9L1576.7 510.8"/><path class="t" d="M1557.3 435.5L1573.9 513.6"/><path class="o" d="M1592.7 400.6L1597.4 473.1"/><path class="o" d="M1654.5 527.7L1654.5 558.8"/><path class="o" d="M1681.6 527.7L1681.6 558.8"/><path class="o" d="M1605 528.1L1606.3 539"/><path class="o" d="M1621 528.1L1625.7 549.4"/><path class="o" d="M1637 528.1L1638.9 554.1"/><path class="o" d="M1638.3 528.1L1639.8 554.1"/></g><circle class="d" cx="1668" cy="448.5" r="110.6"/><rect class="wo" x="1597.4" y="387.1" width="140.9" height="140.6"/><path class="o" d="M1597.4 509.3L1738.3 509.3"/><circle class="o" cx="1635.1" cy="413.2" r="10.3"/><path class="t" d="M1621.1 413.2L1627.1 413.2"/><path class="t" d="M1631.1 413.2L1639.1 413.2"/><path class="t" d="M1643.1 413.2L1649.1 413.2"/><path class="t" d="M1635.1 399.2L1635.1 405.2"/><path class="t" d="M1635.1 409.2L1635.1 417.2"/><path class="t" d="M1635.1 421.2L1635.1 427.2"/><circle class="o" cx="1635.1" cy="478.8" r="10.3"/><path class="t" d="M1621.1 478.8L1627.1 478.8"/><path class="t" d="M1631.1 478.8L1639.1 478.8"/><path class="t" d="M1643.1 478.8L1649.1 478.8"/><path class="t" d="M1635.1 464.8L1635.1 470.8"/><path class="t" d="M1635.1 474.8L1635.1 482.8"/><path class="t" d="M1635.1 486.8L1635.1 492.8"/><circle class="o" cx="1700.6" cy="413.2" r="10.3"/><path class="t" d="M1686.6 413.2L1692.6 413.2"/><path class="t" d="M1696.6 413.2L1704.6 413.2"/><path class="t" d="M1708.6 413.2L1714.6 413.2"/><path class="t" d="M1700.6 399.2L1700.6 405.2"/><path class="t" d="M1700.6 409.2L1700.6 417.2"/><path class="t" d="M1700.6 421.2L1700.6 427.2"/><circle class="o" cx="1700.6" cy="478.8" r="10.3"/><path class="t" d="M1686.6 478.8L1692.6 478.8"/><path class="t" d="M1696.6 478.8L1704.6 478.8"/><path class="t" d="M1708.6 478.8L1714.6 478.8"/><path class="t" d="M1700.6 464.8L1700.6 470.8"/><path class="t" d="M1700.6 474.8L1700.6 482.8"/><path class="t" d="M1700.6 486.8L1700.6 492.8"/><path class="t" d="M1638.5 405L1637.5 421"/><path class="t" d="M1637 471L1636 489"/><path class="t" d="M1639 471L1638 489"/><path class="d" d="M1597.4 222.9L1597.4 386"/><path class="d" d="M1738.3 222.9L1738.3 383"/><path class="d" d="M1635.3 274.6L1635.3 392"/><path class="d" d="M1700.7 315L1700.7 392"/><path class="a" d="M1597.4 232.9L1613.1 229.8L1613.1 236Z"/><path class="a" d="M1738.3 232.9L1722.6 236L1722.6 229.8Z"/><text x="1668.1" y="227.2" font-size="16.5" text-anchor="middle">3.75</text><text x="1668.1" y="248.5" font-size="16.5" text-anchor="middle">95.25</text><path class="b" d="M1645.5 234.3H1642.5V252.1H1645.5"/><path class="b" d="M1690.7 234.3H1693.7V252.1H1690.7"/><path class="b" d="M1636 212.7Q1624 233.7 1636 254.7"/><path class="b" d="M1700.2 212.7Q1712.2 233.7 1700.2 254.7"/><path class="a" d="M1635.3 284.3L1619.6 287.4L1619.6 281.2Z"/><path class="d" d="M1616.4 284.3L1622 284.3"/><path class="a" d="M1738.3 284.3L1754 281.2L1754 287.4Z"/><path class="d" d="M1752 284.3L1757.1 284.3"/><text x="1686.7" y="278.6" font-size="16.5" text-anchor="middle">2.75</text><text x="1686.7" y="299.9" font-size="16.5" text-anchor="middle">69.85</text><path class="b" d="M1664.1 285.7H1661.1V303.5H1664.1"/><path class="b" d="M1709.3 285.7H1712.3V303.5H1709.3"/><path class="b" d="M1654.6 264.1Q1642.6 285.1 1654.6 306.1"/><path class="b" d="M1718.8 264.1Q1730.8 285.1 1718.8 306.1"/><path class="a" d="M1700.7 324.3L1716 321.2L1716 327.4Z"/><path class="a" d="M1738.3 324.3L1723.3 327.4L1723.3 321.2Z"/><path class="d" d="M1700.7 324.3L1750.7 324.3"/><text x="1804.3" y="318.9" font-size="16.5" text-anchor="middle">1.00</text><text x="1804.3" y="340.2" font-size="16.5" text-anchor="middle">25.40</text><path class="b" d="M1781.7 326H1778.7V343.8H1781.7"/><path class="b" d="M1826.9 326H1829.9V343.8H1826.9"/><path class="b" d="M1772.2 304.4Q1760.2 325.4 1772.2 346.4"/><path class="b" d="M1836.4 304.4Q1848.4 325.4 1836.4 346.4"/><path class="d" d="M1743 387.5L1993.9 387.5"/><path class="d" d="M1717 413.2L1912.8 413.2"/><path class="d" d="M1717 478.6L1830.6 478.6"/><path class="d" d="M1741 527.9L1993.9 527.9"/><path class="d" d="M1984.6 387.5L1984.6 437.5"/><path class="d" d="M1984.6 480.4L1984.6 527.9"/><path class="a" d="M1984.6 387.5L1987.7 402.5L1981.5 402.5Z"/><path class="a" d="M1984.6 527.9L1981.5 512.9L1987.7 512.9Z"/><text x="1984.6" y="452.9" font-size="16.5" text-anchor="middle">3.75</text><text x="1984.6" y="474.2" font-size="16.5" text-anchor="middle">95.25</text><path class="b" d="M1962 460H1959V477.8H1962"/><path class="b" d="M2007.2 460H2010.2V477.8H2007.2"/><path class="b" d="M1952.5 438.4Q1940.5 459.4 1952.5 480.4"/><path class="b" d="M2016.7 438.4Q2028.7 459.4 2016.7 480.4"/><path class="d" d="M1903.9 413.2L1903.9 450"/><path class="d" d="M1903.9 494L1903.9 527.9"/><path class="a" d="M1903.9 413.2L1907 428.2L1900.8 428.2Z"/><path class="a" d="M1903.9 527.9L1900.8 512.9L1907 512.9Z"/><text x="1903.9" y="465.4" font-size="16.5" text-anchor="middle">3.06</text><text x="1903.9" y="486.7" font-size="16.5" text-anchor="middle">77.72</text><path class="b" d="M1881.3 472.5H1878.3V490.3H1881.3"/><path class="b" d="M1926.5 472.5H1929.5V490.3H1926.5"/><path class="b" d="M1871.8 450.9Q1859.8 471.9 1871.8 492.9"/><path class="b" d="M1936 450.9Q1948 471.9 1936 492.9"/><path class="a" d="M1820.6 478.6L1817.5 466.6L1823.7 466.6Z"/><path class="d" d="M1820.6 460.7L1820.6 468"/><path class="a" d="M1820.6 527.9L1823.7 539.9L1817.5 539.9Z"/><path class="d" d="M1820.6 539L1820.6 546.4"/><text x="1820.6" y="498.9" font-size="16.5" text-anchor="middle">1.31</text><text x="1820.6" y="520.2" font-size="16.5" text-anchor="middle">33.27</text><path class="b" d="M1798 506H1795V523.8H1798"/><path class="b" d="M1843.2 506H1846.2V523.8H1843.2"/><path class="b" d="M1788.5 484.4Q1776.5 505.4 1788.5 526.4"/><path class="b" d="M1852.7 484.4Q1864.7 505.4 1852.7 526.4"/><path class="l" d="M1706.1 488.8L1758.5 579.5L1778.2 579.5"/><path class="a" d="M1706.1 488.8L1715.2 498.6L1710 501.6Z"/><path class="b" d="M1781 567.9Q1774 580.4 1781 592.9M1930 567.9Q1937 580.4 1930 592.9"/><circle class="b" cx="1789" cy="580.6" r="5.2"/><path class="b" d="M1785.8 588L1792.4 573.4"/><text x="1798.5" y="586.4" font-size="16.5">.53</text><text x="1830.3" y="586.4" font-size="16.5">13.46</text><path class="b" d="M1828.3 571.5H1825.3V590H1828.3M1870.6 571.5H1873.6V590H1870.6"/><text x="1882.4" y="586.4" font-size="13.5">THRU</text><text x="1669" y="589.5" font-size="18" text-anchor="middle">DETAIL A</text><text x="1677.5" y="610" font-size="20.8" font-weight="bold" text-anchor="middle">6 PLACES</text></g>
<g id="iso"><defs><linearGradient id="hg" x1="0" y1="0" x2="1" y2="1"><stop offset="0" stop-color="#b4b4b4"/><stop offset="1" stop-color="#8c8c8c"/></linearGradient></defs><path d="M2162.3 216.8L2162.3 199.2L2166.8 195.3L2172 196.3L2172 211.9Z" fill="#a8a8a8" stroke="#111" stroke-width="1" stroke-linejoin="round"/><path d="M2165.2 213.8L2165.2 202.1L2169.1 201.2L2169.1 211.3Z" fill="#dedede" stroke="#111" stroke-width="0.8" stroke-linejoin="round"/><path d="M2097.4 553.1L2119.2 565.9L2128.6 559.7L2106.8 548.1Z" fill="#ddd" stroke="#111" stroke-width="1" stroke-linejoin="round"/><path d="M2111.4 541.4L2125.5 549.2L2122.3 553.1L2111.4 546.9Z" fill="#ccc" stroke="#111" stroke-width="0.7" stroke-linejoin="round"/><path d="M2105.2 536L2110.7 539.1L2110.7 561.7L2105.2 558.6Z" fill="#999" stroke="#111" stroke-width="0.8" stroke-linejoin="round"/><path d="M2110.7 542.2L2114.6 544.6L2114.6 562.5L2110.7 561.7Z" fill="#bbb" stroke="#111" stroke-width="0.7" stroke-linejoin="round"/><path d="M2369.4 585.9L2378 591.3L2386.5 585.1L2378.7 579.9Z" fill="#ddd" stroke="#111" stroke-width="1" stroke-linejoin="round"/><path d="M2247 639.6L2268.9 653.2L2278.5 646.6L2271.2 641.2L2261.1 646.6L2253.3 635.7Z" fill="#ddd" stroke="#111" stroke-width="1" stroke-linejoin="round"/><path d="M2246.3 624L2254.8 621.7L2254.8 631.1L2250.9 628.7Z" fill="#ddd" stroke="#111" stroke-width="0.7" stroke-linejoin="round"/><path d="M2254.8 620.9L2261.8 624.8L2261.8 646.6L2254.8 642.7Z" fill="#999" stroke="#111" stroke-width="0.8" stroke-linejoin="round"/><circle class="k" cx="2118.9" cy="562.2" r="1.2"/><circle class="k" cx="2100.8" cy="553.9" r="1.2"/><circle class="k" cx="2380.3" cy="584.3" r="1.2"/><circle class="k" cx="2269.2" cy="649" r="1.2"/><circle class="k" cx="2252" cy="640.7" r="1.2"/><path d="M2375.6 283L2395.1 288.9L2396.1 345.4L2377.6 359L2375.6 357Z" fill="#a4a4a4" stroke="#111" stroke-width="1" stroke-linejoin="round"/><path d="M2103.8 335L2262.6 420L2262.2 624.5L2104.4 533.6Z" fill="#7c7c7c" stroke="#111" stroke-width="1" stroke-linejoin="round"/><path d="M2104.6 386L2262 476.8L2262 483.8L2104.6 393Z" fill="#6c6c6c" stroke="#111" stroke-width="0.9" stroke-linejoin="round"/><path d="M2262.2 349.5L2375.6 283L2378.7 285L2378.7 578.1L2262.2 646Z" fill="#a5a5a5" stroke="#111" stroke-width="1" stroke-linejoin="round"/><path d="M2323 322L2332.8 316.5L2332.8 515L2342 525L2351.5 517.5L2352 528L2303.5 556L2303 545L2315.5 538L2323 522Z" fill="#a9a9a9" stroke="#111" stroke-width="0.9" stroke-linejoin="round"/><path d="M2101.9 258.7L2261.7 349.3L2244.1 376.5L2087.3 285.9Z" fill="url(#hg)" stroke="#111" stroke-width="1" stroke-linejoin="round"/><path d="M2087.3 285.9L2244.1 376.5L2245.1 424.3L2087.3 333.7Z" fill="#828282" stroke="#111" stroke-width="1" stroke-linejoin="round"/><path d="M2261.7 349.3L2265 350.2L2265 423.3L2246.1 425.2L2244.1 376.5Z" fill="#a2a2a2" stroke="#111" stroke-width="1" stroke-linejoin="round"/><path d="M2176.9 390.2L2188.6 396L2188.6 423.3L2176.9 417.4Z" fill="#8a8a8a" stroke="#111" stroke-width="0.8" stroke-linejoin="round"/><path d="M2177.9 394.1L2187.6 398.9L2187.6 401.9L2177.9 397Z" fill="#444" stroke="#111" stroke-width="0.4" stroke-linejoin="round"/><path d="M2177.9 401.1L2187.6 406L2187.6 408.9L2177.9 404Z" fill="#444" stroke="#111" stroke-width="0.4" stroke-linejoin="round"/><path d="M2177.9 408.1L2187.6 413L2187.6 415.9L2177.9 411Z" fill="#444" stroke="#111" stroke-width="0.4" stroke-linejoin="round"/><path d="M2177.9 415.1L2187.6 420L2187.6 422.9L2177.9 418Z" fill="#444" stroke="#111" stroke-width="0.4" stroke-linejoin="round"/><path d="M2101.9 253.8L2101.9 258.7L2261.7 349.3L2381.5 280.1L2381.5 275.2L2261.7 345.4Z" fill="#b8b8b8" stroke="#111" stroke-width="1" stroke-linejoin="round"/><path d="M2222.7 183.2L2381.5 275.2L2261.7 345.4L2101.9 253.8Z" fill="#dedede" stroke="#111" stroke-width="1.2" stroke-linejoin="round"/><path d="M2324.6 321L2324.6 294.7L2329.9 288.9L2334.7 290.8L2334.7 319.1L2332.8 321Z" fill="#b0b0b0" stroke="#111" stroke-width="1" stroke-linejoin="round"/><path d="M2327.7 310.3L2327.7 297.6L2329.7 294.7L2331.6 296.3L2331.6 308.7L2329.7 311.3Z" fill="#dedede" stroke="#111" stroke-width="0.8" stroke-linejoin="round"/><circle class="k" cx="2116.5" cy="264.5" r="1.3"/><circle class="k" cx="2159.4" cy="288.5" r="1.3"/><circle class="k" cx="2202.2" cy="313.2" r="1.3"/><circle class="k" cx="2245.1" cy="339.1" r="1.3"/><circle class="k" cx="2271.4" cy="341.1" r="1.3"/><circle class="k" cx="2321.1" cy="312.6" r="1.3"/><circle class="k" cx="2371.7" cy="283" r="1.3"/><circle class="k" cx="2106.8" cy="439.4" r="1.3"/><circle class="k" cx="2117.4" cy="491.6" r="1.3"/><circle class="k" cx="2160.5" cy="516.2" r="1.3"/><circle class="k" cx="2204.2" cy="541.8" r="1.3"/><circle class="k" cx="2160.5" cy="559.1" r="1.3"/><circle class="k" cx="2204.2" cy="584.6" r="1.3"/><circle class="k" cx="2247.5" cy="566.5" r="1.3"/><circle class="k" cx="2258.3" cy="526.9" r="1.3"/><circle class="k" cx="2207.8" cy="450.3" r="1.3"/><circle class="k" cx="2257.9" cy="479.9" r="1.3"/><circle class="k" cx="2107.5" cy="533.6" r="1.3"/><circle class="k" cx="2257.2" cy="620.5" r="1.3"/><circle class="k" cx="2279.8" cy="464.8" r="1.2"/><circle class="k" cx="2285.1" cy="485.5" r="1.2"/><circle class="k" cx="2291.1" cy="542.5" r="1.2"/><circle class="k" cx="2278.8" cy="549.9" r="1.2"/><circle class="k" cx="2274.8" cy="566.5" r="1.2"/><circle class="k" cx="2278.2" cy="615.5" r="1.2"/><circle class="k" cx="2320.6" cy="590.5" r="1.2"/><circle class="k" cx="2362.7" cy="566.5" r="1.2"/><circle class="k" cx="2366" cy="513.9" r="1.2"/><circle class="k" cx="2361.6" cy="502.2" r="1.2"/><circle class="k" cx="2349.1" cy="509.3" r="1.2"/><circle class="k" cx="2355.4" cy="445" r="1.2"/><circle class="k" cx="2311.7" cy="442.2" r="1.2"/><circle class="k" cx="2317.2" cy="443.2" r="1.2"/><circle class="k" cx="2311.7" cy="456.8" r="1.2"/><circle class="k" cx="2320" cy="465.5" r="1.2"/><circle class="k" cx="2313.7" cy="529.8" r="1.2"/><circle class="k" cx="2299.7" cy="364.8" r="1.2"/><circle class="k" cx="2279.8" cy="376.1" r="1.2"/><circle class="k" cx="2354.6" cy="379.5" r="1.2"/><circle class="k" cx="2306.5" cy="407.1" r="1.2"/><circle class="k" cx="2364" cy="419" r="1.2"/><circle class="k" cx="2354.6" cy="421.7" r="1.2"/><circle class="k" cx="2311.7" cy="442.2" r="1.2"/><circle class="k" cx="2317.2" cy="443.8" r="1.2"/><circle class="k" cx="2355.8" cy="445.1" r="1.2"/><circle class="k" cx="2311.7" cy="456.8" r="1.2"/><circle class="k" cx="2279.8" cy="466.2" r="1.2"/><circle class="k" cx="2320.1" cy="465.8" r="1.2"/><circle class="k" cx="2378" cy="304.4" r="1.2"/><circle class="k" cx="2378" cy="339.5" r="1.2"/><circle class="k" cx="2262.6" cy="370.7" r="1.2"/><circle class="k" cx="2262.6" cy="405.8" r="1.2"/><circle class="k" cx="2106.4" cy="392.1" r="1.2"/><circle class="k" cx="2106.4" cy="439.3" r="1.2"/><circle class="k" cx="2156.4" cy="421" r="1.2"/><circle class="k" cx="2207.7" cy="450.6" r="1.2"/><circle class="o" cx="2327.5" cy="333.7" r="1.6"/><circle class="o" cx="2327.5" cy="391.1" r="1.6"/><circle class="o" cx="2327.5" cy="448.2" r="1.6"/><circle class="o" cx="2327.6" cy="448.4" r="1.6"/><circle class="o" cx="2307.8" cy="548.1" r="1.6"/><circle class="o" cx="2320.8" cy="540.5" r="1.6"/><circle class="o" cx="2334" cy="532.9" r="1.6"/><circle class="o" cx="2347.3" cy="525.1" r="1.6"/></g>
<g id="detailb"><rect class="d" x="1563.6" y="746.5" width="134.2" height="126.7"/><path class="o" d="M1569.8 752.2H1604.5V794.3Q1602.4 797.3 1604.5 800.5V842.6H1569.8V800.5Q1571.9 797.3 1569.8 794.3Z" stroke-linejoin="round"/><path class="o" d="M1612.7 752.2H1647.4V794.3Q1645.3 797.3 1647.4 800.5V842.6H1612.7V800.5Q1614.8 797.3 1612.7 794.3Z" stroke-linejoin="round"/><path class="o" d="M1655.7 752.2H1690.4V794.3Q1688.3 797.3 1690.4 800.5V842.6H1655.7V800.5Q1657.8 797.3 1655.7 794.3Z" stroke-linejoin="round"/><circle class="wo" cx="1608.3" cy="797.3" r="11.9"/><rect class="o" x="1606.5" y="786.4" width="3.6" height="21.9"/><path class="t" d="M1604.3 785L1612.3 785"/><path class="t" d="M1604.3 809.8L1612.3 809.8"/><circle class="wo" cx="1651.6" cy="797.3" r="11.9"/><rect class="o" x="1649.8" y="786.4" width="3.6" height="21.9"/><path class="t" d="M1647.6 785L1655.6 785"/><path class="t" d="M1647.6 809.8L1655.6 809.8"/><circle class="wo" cx="1586.9" cy="778.6" r="13.7"/><circle class="o" cx="1586.9" cy="778.6" r="10.5"/><circle class="wo" cx="1586.9" cy="817.1" r="13.7"/><circle class="o" cx="1586.9" cy="817.1" r="10.5"/><circle class="wo" cx="1629.7" cy="778.6" r="13.7"/><circle class="o" cx="1629.7" cy="778.6" r="10.5"/><circle class="wo" cx="1629.7" cy="817.1" r="13.7"/><circle class="o" cx="1629.7" cy="817.1" r="10.5"/><circle class="wo" cx="1672.9" cy="778.6" r="13.7"/><circle class="o" cx="1672.9" cy="778.6" r="10.5"/><circle class="wo" cx="1672.9" cy="817.1" r="13.7"/><circle class="o" cx="1672.9" cy="817.1" r="10.5"/><rect class="o" x="1612.7" y="849.2" width="75.9" height="19.3" rx="8"/><text x="1631.1" y="863.9" font-size="15" font-weight="bold" text-anchor="middle" fill="#bbb" stroke="#444" stroke-width="0.8">T1</text><text x="1668.8" y="863.9" font-size="15" font-weight="bold" text-anchor="middle" fill="#bbb" stroke="#444" stroke-width="0.8">T2</text><text x="1533.8" y="721.2" font-size="15" textLength="75.4" lengthAdjust="spacingAndGlyphs">SEE NOTE 1</text><path class="l" d="M1631.5 716L1649.5 716L1671.5 752.6"/><path class="a" d="M1671.5 752.6L1661.7 742.1L1666.9 739.1Z"/><text x="1459.6" y="889.5" font-size="16.5" textLength="96.1" lengthAdjust="spacingAndGlyphs">SEE NOTE 2</text><path class="l" d="M1556.6 884.3L1575.9 884.3L1594 843.4"/><path class="a" d="M1594 843.4L1591 857.4L1585.6 855Z"/><text x="1633.7" y="896.9" font-size="20.8" font-weight="bold" text-anchor="middle">DETAIL B</text><text x="1633.5" y="918" font-size="20.8" font-weight="bold" text-anchor="middle">CUSTOMER CONNECTION</text><text x="1633.7" y="938.6" font-size="20.8" font-weight="bold" text-anchor="middle">DETAIL VIEW (THERMAL)</text></g>
<g id="conn"><rect class="wo" x="2121.2" y="824.6" width="23.4" height="16.7"/><rect class="o" x="2122.5" y="825.5" width="5" height="14.5" rx="1"/><circle class="k" cx="2125" cy="836" r="1.3"/><rect class="o" x="2130.5" y="825.5" width="5" height="14.5" rx="1"/><circle class="k" cx="2133" cy="836" r="1.3"/><rect class="o" x="2138.3" y="825.5" width="5" height="14.5" rx="1"/><circle class="k" cx="2140.8" cy="836" r="1.3"/><rect class="wo" x="1997.9" y="841.3" width="270.8" height="42.1"/><path class="o" d="M1997.9 844.8L2268.7 844.8"/><path class="o" d="M1997.9 848.3L2268.7 848.3"/><path class="m" d="M2144.6 838C2160 835 2178 833 2185 840C2190 850 2190 862 2177 870C2165 878 2152 882 2145 886"/><path class="o" d="M2132 842C2150 838 2165 835 2175 836"/><circle class="wo" cx="2025.2" cy="868.5" r="7.9"/><circle class="o" cx="2025.2" cy="868.5" r="5.3"/><circle class="m" cx="2025.2" cy="868.5" r="2.8"/><circle class="wo" cx="2133.2" cy="868.5" r="7.9"/><circle class="o" cx="2133.2" cy="868.5" r="5.3"/><circle class="m" cx="2133.2" cy="868.5" r="2.8"/><circle class="wo" cx="2241.5" cy="868.5" r="7.9"/><circle class="o" cx="2241.5" cy="868.5" r="5.3"/><circle class="m" cx="2241.5" cy="868.5" r="2.8"/><path class="o" d="M1997.9 887.8L2268.7 887.8"/><path class="o" d="M1997.9 883.4L1997.9 1150.8"/><path class="o" d="M2268.7 883.4L2268.7 1150.8"/><path class="t" d="M2000.5 883.4L2000.5 1150.8"/><path class="t" d="M2266 883.4L2266 1150.8"/><rect class="wo" x="2076.9" y="873.7" width="4.6" height="6.3" rx="1"/><rect class="wo" x="2074.7" y="880" width="9" height="6.5"/><rect class="wo" x="2184.8" y="873.7" width="4.6" height="6.3" rx="1"/><rect class="wo" x="2182.6" y="880" width="9" height="6.5"/><rect class="wo" x="2014.6" y="883.4" width="21.6" height="20.2"/><circle class="o" cx="2019.8" cy="890.5" r="1.9"/><circle class="o" cx="2030.8" cy="890.5" r="1.9"/><path class="t" d="M2014.6 899L2036.2 899"/><rect class="wo" x="2122.6" y="883.4" width="21.6" height="20.2"/><circle class="o" cx="2127.8" cy="890.5" r="1.9"/><circle class="o" cx="2138.8" cy="890.5" r="1.9"/><path class="t" d="M2122.6 899L2144.2 899"/><rect class="wo" x="2230.6" y="883.4" width="21.6" height="20.2"/><circle class="o" cx="2235.8" cy="890.5" r="1.9"/><circle class="o" cx="2246.8" cy="890.5" r="1.9"/><path class="t" d="M2230.6 899L2252.2 899"/><rect class="o" x="2048" y="887.8" width="22" height="3.2"/><rect class="o" x="2088" y="887.8" width="17" height="3.2"/><rect class="o" x="2156" y="887.8" width="22" height="3.2"/><rect class="o" x="2196" y="887.8" width="17" height="3.2"/><rect class="o" x="2051.5" y="891" width="55" height="13.5"/><path class="o" d="M2051.5 896L2106.5 896"/><path class="o" d="M2051.5 898L2106.5 898"/><rect class="o" x="2159.5" y="891" width="55" height="13.5"/><path class="o" d="M2159.5 896L2214.5 896"/><path class="o" d="M2159.5 898L2214.5 898"/><rect class="wo" x="1977.2" y="904.5" width="312.2" height="52.3"/><path class="o" d="M2002.3 904.5L2002.3 956.8"/><path class="o" d="M2005.3 904.5L2005.3 956.8"/><path class="o" d="M2043.6 904.5L2043.6 956.8"/><path class="o" d="M2045.4 904.5L2045.4 956.8"/><path class="o" d="M2072.6 904.5L2072.6 956.8"/><path class="o" d="M2085.7 904.5L2085.7 956.8"/><path class="o" d="M2110.3 904.5L2110.3 956.8"/><path class="o" d="M2113.5 904.5L2113.5 956.8"/><path class="o" d="M2151.6 904.5L2151.6 956.8"/><path class="o" d="M2153.9 904.5L2153.9 956.8"/><path class="o" d="M2180.6 904.5L2180.6 956.8"/><path class="o" d="M2194.1 904.5L2194.1 956.8"/><path class="o" d="M2218.7 904.5L2218.7 956.8"/><path class="o" d="M2221.5 904.5L2221.5 956.8"/><path class="o" d="M2259.6 904.5L2259.6 956.8"/><path class="o" d="M2261.9 904.5L2261.9 956.8"/><rect class="wo" x="2036.2" y="904.5" width="7" height="7.5" rx="1"/><rect class="wo" x="2144.2" y="904.5" width="7" height="7.5" rx="1"/><rect class="wo" x="2252.2" y="904.5" width="7" height="7.5" rx="1"/><rect class="wo" x="2076" y="886.5" width="6.4" height="188.5"/><rect class="wo" x="2183.9" y="886.5" width="6.4" height="188.5"/><path class="o" d="M2051.5 956.8L2051.5 1150"/><path class="o" d="M2053.5 956.8L2053.5 1150"/><path class="o" d="M2105 956.8L2105 1150"/><path class="o" d="M2107 956.8L2107 1150"/><path class="o" d="M2159.5 956.8L2159.5 1150"/><path class="o" d="M2161.5 956.8L2161.5 1150"/><path class="o" d="M2213 956.8L2213 1150"/><path class="o" d="M2215 956.8L2215 1150"/><rect class="k" x="2051.5" y="957.5" width="55" height="2.5"/><rect class="k" x="2159.5" y="957.5" width="55" height="2.5"/><rect class="k" x="2052" y="1016" width="12" height="2"/><rect class="k" x="2160" y="1016" width="12" height="2"/><rect class="o" x="1978.6" y="1036.7" width="309.9" height="108.3"/><path class="o" d="M1994 1036.7L1994 1145"/><path class="o" d="M2054 1036.7L2054 1145"/><path class="o" d="M2071 1036.7L2071 1145"/><path class="o" d="M2086 1036.7L2086 1145"/><path class="o" d="M2103 1036.7L2103 1145"/><path class="o" d="M2162 1036.7L2162 1145"/><path class="o" d="M2179 1036.7L2179 1145"/><path class="o" d="M2194 1036.7L2194 1145"/><path class="o" d="M2211 1036.7L2211 1145"/><path class="o" d="M2270 1036.7L2270 1145"/><path class="o" d="M1979 1036.7L1979 1075L1989 1075L1989 1062L1979 1062"/><path class="o" d="M1979 1048L1989 1048"/><path class="o" d="M1989 1036.7L1989 1048"/><path class="o" d="M2087 1036.7L2087 1075L2097 1075L2097 1062L2087 1062"/><path class="o" d="M2087 1048L2097 1048"/><path class="o" d="M2097 1036.7L2097 1048"/><path class="o" d="M2195 1036.7L2195 1075L2205 1075L2205 1062L2195 1062"/><path class="o" d="M2195 1048L2205 1048"/><path class="o" d="M2205 1036.7L2205 1048"/><path class="o" d="M2070 1075L2060 1075L2060 1062L2070 1062"/><path class="o" d="M2178 1075L2168 1075L2168 1062L2178 1062"/><path class="o" d="M2286 1075L2276 1075L2276 1062L2286 1062"/><rect class="wo" x="2019.9" y="956.8" width="14" height="8.2"/><rect class="wo" x="2022.5" y="990" width="8.8" height="60"/><circle class="o" cx="2021.9" cy="989" r="5"/><circle class="o" cx="2031.9" cy="989" r="5"/><rect class="wo" x="2021.4" y="975" width="11" height="27" rx="2"/><rect class="wh" x="2018.1" y="961.5" width="17.6" height="17.5" rx="1.5"/><circle class="wh" cx="2026.9" cy="970.3" r="4.9"/><circle class="o" cx="2026.9" cy="970.3" r="3.2"/><rect class="wo" x="2021.4" y="1028.8" width="11" height="23.2" rx="2"/><path class="wh" d="M2021.4 1052L2018.1 1056V1070H2035.7V1056L2032.4 1052Z"/><circle class="wh" cx="2025.9" cy="1061.3" r="4.9"/><circle class="o" cx="2025.9" cy="1061.3" r="3.2"/><rect class="k" x="2021.9" y="1070" width="10" height="3"/><rect class="wo" x="2127.6" y="956.8" width="14" height="8.2"/><rect class="wo" x="2130.2" y="990" width="8.8" height="60"/><circle class="o" cx="2129.6" cy="989" r="5"/><circle class="o" cx="2139.6" cy="989" r="5"/><rect class="wo" x="2129.1" y="975" width="11" height="27" rx="2"/><rect class="wh" x="2125.8" y="961.5" width="17.6" height="17.5" rx="1.5"/><circle class="wh" cx="2134.6" cy="970.3" r="4.9"/><circle class="o" cx="2134.6" cy="970.3" r="3.2"/><rect class="wo" x="2129.1" y="1028.8" width="11" height="23.2" rx="2"/><path class="wh" d="M2129.1 1052L2125.8 1056V1070H2143.4V1056L2140.1 1052Z"/><circle class="wh" cx="2133.6" cy="1061.3" r="4.9"/><circle class="o" cx="2133.6" cy="1061.3" r="3.2"/><rect class="k" x="2129.6" y="1070" width="10" height="3"/><rect class="wo" x="2235.9" y="956.8" width="14" height="8.2"/><rect class="wo" x="2238.5" y="990" width="8.8" height="60"/><circle class="o" cx="2237.9" cy="989" r="5"/><circle class="o" cx="2247.9" cy="989" r="5"/><rect class="wo" x="2237.4" y="975" width="11" height="27" rx="2"/><rect class="wh" x="2234.1" y="961.5" width="17.6" height="17.5" rx="1.5"/><circle class="wh" cx="2242.9" cy="970.3" r="4.9"/><circle class="o" cx="2242.9" cy="970.3" r="3.2"/><rect class="wo" x="2237.4" y="1028.8" width="11" height="23.2" rx="2"/><path class="wh" d="M2237.4 1052L2234.1 1056V1070H2251.7V1056L2248.4 1052Z"/><circle class="wh" cx="2241.9" cy="1061.3" r="4.9"/><circle class="o" cx="2241.9" cy="1061.3" r="3.2"/><rect class="k" x="2237.9" y="1070" width="10" height="3"/><rect class="wo" x="1955.8" y="1030.9" width="321.3" height="5.3"/><rect class="wo" x="1955.8" y="979.6" width="56.5" height="56.4" rx="1"/><path class="o" d="M1955.8 1029L2012.3 1029"/><circle class="wo" cx="1971.1" cy="990.1" r="4.2"/><circle class="wo" cx="1971.1" cy="1016.2" r="4.2"/><circle class="wo" cx="1997.4" cy="990.1" r="4.2"/><path class="t" d="M1997.4 985.9L1997.4 994.3"/><circle class="wo" cx="1997.4" cy="1016.2" r="4.2"/><path class="t" d="M1997.4 1012L1997.4 1020.4"/><rect class="wo" x="2064.1" y="979.6" width="56.5" height="56.4" rx="1"/><path class="o" d="M2064.1 1029L2120.6 1029"/><circle class="wo" cx="2079.4" cy="990.1" r="4.2"/><circle class="wo" cx="2079.4" cy="1016.2" r="4.2"/><circle class="wo" cx="2105.7" cy="990.1" r="4.2"/><path class="t" d="M2105.7 985.9L2105.7 994.3"/><circle class="wo" cx="2105.7" cy="1016.2" r="4.2"/><path class="t" d="M2105.7 1012L2105.7 1020.4"/><rect class="wo" x="2172.1" y="979.6" width="56.5" height="56.4" rx="1"/><path class="o" d="M2172.1 1029L2228.6 1029"/><circle class="wo" cx="2187.4" cy="990.1" r="4.2"/><circle class="wo" cx="2187.4" cy="1016.2" r="4.2"/><circle class="wo" cx="2213.7" cy="990.1" r="4.2"/><path class="t" d="M2213.7 985.9L2213.7 994.3"/><circle class="wo" cx="2213.7" cy="1016.2" r="4.2"/><path class="t" d="M2213.7 1012L2213.7 1020.4"/><circle class="wo" cx="1998.8" cy="1040.2" r="5.3"/><circle class="t" cx="1998.8" cy="1040.2" r="3.6"/><rect class="k" x="1996.4" y="1039" width="4.8" height="2.6"/><circle class="wo" cx="2106.8" cy="1040.2" r="5.3"/><circle class="t" cx="2106.8" cy="1040.2" r="3.6"/><rect class="k" x="2104.4" y="1039" width="4.8" height="2.6"/><circle class="wo" cx="2214.8" cy="1040.2" r="5.3"/><circle class="t" cx="2214.8" cy="1040.2" r="3.6"/><rect class="k" x="2212.4" y="1039" width="4.8" height="2.6"/><rect class="wo" x="1978.6" y="1075.3" width="309.9" height="5.3"/><rect class="wo" x="2021.5" y="1080.6" width="6" height="6.9" rx="1"/><rect class="o" x="2020.3" y="1081.5" width="8.4" height="2.5"/><rect class="wo" x="2129.5" y="1080.6" width="6" height="6.9" rx="1"/><rect class="o" x="2128.3" y="1081.5" width="8.4" height="2.5"/><rect class="wo" x="2237.5" y="1080.6" width="6" height="6.9" rx="1"/><rect class="o" x="2236.3" y="1081.5" width="8.4" height="2.5"/><rect class="wo" x="2038" y="1075.8" width="56.5" height="56.4" rx="1"/><path class="o" d="M2038 1125.2L2094.5 1125.2"/><circle class="wo" cx="2053.3" cy="1086.3" r="4.2"/><path class="t" d="M2053.3 1082.1L2053.3 1090.5"/><circle class="wo" cx="2053.3" cy="1112.4" r="4.2"/><path class="t" d="M2053.3 1108.2L2053.3 1116.6"/><circle class="wo" cx="2079.6" cy="1086.3" r="4.2"/><circle class="wo" cx="2079.6" cy="1112.4" r="4.2"/><rect class="wo" x="2145.8" y="1075.8" width="56.5" height="56.4" rx="1"/><path class="o" d="M2145.8 1125.2L2202.3 1125.2"/><circle class="wo" cx="2161.1" cy="1086.3" r="4.2"/><path class="t" d="M2161.1 1082.1L2161.1 1090.5"/><circle class="wo" cx="2161.1" cy="1112.4" r="4.2"/><path class="t" d="M2161.1 1108.2L2161.1 1116.6"/><circle class="wo" cx="2187.4" cy="1086.3" r="4.2"/><circle class="wo" cx="2187.4" cy="1112.4" r="4.2"/><rect class="wo" x="2254.3" y="1075.8" width="56.5" height="56.4" rx="1"/><path class="o" d="M2254.3 1125.2L2310.8 1125.2"/><circle class="wo" cx="2269.6" cy="1086.3" r="4.2"/><path class="t" d="M2269.6 1082.1L2269.6 1090.5"/><circle class="wo" cx="2269.6" cy="1112.4" r="4.2"/><path class="t" d="M2269.6 1108.2L2269.6 1116.6"/><circle class="wo" cx="2295.9" cy="1086.3" r="4.2"/><circle class="wo" cx="2295.9" cy="1112.4" r="4.2"/><circle class="wo" cx="2051" cy="1141.2" r="5.3"/><circle class="t" cx="2051" cy="1141.2" r="3.6"/><rect class="k" x="2048.6" y="1140" width="4.8" height="2.6"/><circle class="wo" cx="2159" cy="1141.2" r="5.3"/><circle class="t" cx="2159" cy="1141.2" r="3.6"/><rect class="k" x="2156.6" y="1140" width="4.8" height="2.6"/><circle class="wo" cx="2267" cy="1141.2" r="5.3"/><circle class="t" cx="2267" cy="1141.2" r="3.6"/><rect class="k" x="2264.6" y="1140" width="4.8" height="2.6"/><path class="wo" d="M1997.9 1150.8H2268.7V1178Q2268.7 1199.1 2290 1199.1H2311.7Q2313.7 1199.1 2313.7 1201V1212.6Q2313.7 1214.6 2311.7 1214.6H1954.6Q1952.6 1214.6 1952.6 1212.6V1201Q1952.6 1199.1 1954.6 1199.1H1977Q1997.9 1199.1 1997.9 1178Z"/><path class="o" d="M1952.6 1206.1L2313.7 1206.1"/><path class="o" d="M1952.6 1209.6L2313.7 1209.6"/><path class="o" d="M1997.9 1164.9L2268.7 1164.9"/><path class="o" d="M1997.9 1169.3L2268.7 1169.3"/><path class="o" d="M1997.9 1172.8L2268.7 1172.8"/><rect class="o" x="1990" y="1145" width="287" height="5.8"/><rect class="wo" x="2052.4" y="1150.8" width="52.7" height="14.2"/><rect class="k" x="2052.4" y="1152.6" width="52.7" height="3.5"/><rect class="k" x="2052.4" y="1158" width="52.7" height="2.3"/><rect class="wo" x="2160.7" y="1150.8" width="52.7" height="14.2"/><rect class="k" x="2160.7" y="1152.6" width="52.7" height="3.5"/><rect class="k" x="2160.7" y="1158" width="52.7" height="2.3"/><rect class="wo" x="2076" y="1132" width="6.4" height="37"/><rect class="wo" x="2074.7" y="1169.3" width="9" height="6.2"/><rect class="wo" x="2076.6" y="1175.5" width="5.2" height="6" rx="1"/><rect class="wo" x="2183.9" y="1132" width="6.4" height="37"/><rect class="wo" x="2182.6" y="1169.3" width="9" height="6.2"/><rect class="wo" x="2184.5" y="1175.5" width="5.2" height="6" rx="1"/><rect class="o" x="2007.2" y="1154" width="3.6" height="8" rx="1.8"/><path class="t" d="M2007.2 1157L2010.8 1157"/><path class="t" d="M2007.2 1159.3L2010.8 1159.3"/><rect class="o" x="2115.2" y="1154" width="3.6" height="8" rx="1.8"/><path class="t" d="M2115.2 1157L2118.8 1157"/><path class="t" d="M2115.2 1159.3L2118.8 1159.3"/><rect class="o" x="2223.2" y="1154" width="3.6" height="8" rx="1.8"/><path class="t" d="M2223.2 1157L2226.8 1157"/><path class="t" d="M2223.2 1159.3L2226.8 1159.3"/><circle class="wo" cx="2025.2" cy="1187.2" r="7.9"/><circle class="o" cx="2025.2" cy="1187.2" r="5.3"/><circle class="m" cx="2025.2" cy="1187.2" r="2.8"/><circle class="wo" cx="2133.2" cy="1187.2" r="7.9"/><circle class="o" cx="2133.2" cy="1187.2" r="5.3"/><circle class="m" cx="2133.2" cy="1187.2" r="2.8"/><circle class="wo" cx="2241.5" cy="1187.2" r="7.9"/><circle class="o" cx="2241.5" cy="1187.2" r="5.3"/><circle class="m" cx="2241.5" cy="1187.2" r="2.8"/><path class="l" d="M1873.5 825L2103.5 1036.5"/><path class="l" d="M2386 830.4L2218 1036"/><path class="l" d="M1885 986.6L1994.5 1037.7"/><path class="l" d="M2364.2 995.2L2163.2 1138"/><path class="l" d="M1886.9 1162.7L2046 1142"/><path class="l" d="M2354.7 1159.4L2272 1142.5"/><clipPath id="cV2"><circle cx="1834" cy="788" r="53"/></clipPath><g clip-path="url(#cV2)"><path class="d" d="M1802.9 728L1802.9 848"/><rect class="d" x="1803.9" y="750" width="66" height="75" rx="9"/></g><circle class="d" cx="1834" cy="788" r="53"/><text x="1836.9" y="801.5" font-size="38" text-anchor="middle" style="fill:#fff;stroke:#555;stroke-width:1.1">V2</text><clipPath id="cW2"><circle cx="2418" cy="788" r="53"/></clipPath><g clip-path="url(#cW2)"><path class="d" d="M2384.3 728L2384.3 848"/><rect class="d" x="2385.3" y="747.1" width="66" height="75" rx="9"/></g><circle class="d" cx="2418" cy="788" r="53"/><text x="2418.3" y="798.6" font-size="38" text-anchor="middle" style="fill:#fff;stroke:#555;stroke-width:1.1">W2</text><clipPath id="cU2"><circle cx="1834" cy="963.5" r="53"/></clipPath><g clip-path="url(#cU2)"><path class="d" d="M1800 903.5L1800 1023.5"/><rect class="d" x="1801" y="923.2" width="66" height="75" rx="9"/></g><circle class="d" cx="1834" cy="963.5" r="53"/><text x="1834" y="974.7" font-size="38" text-anchor="middle" style="fill:#fff;stroke:#555;stroke-width:1.1">U2</text><clipPath id="cV1"><circle cx="2407" cy="964" r="53"/></clipPath><g clip-path="url(#cV1)"><path class="d" d="M2376.1 904L2376.1 1024"/><path class="d" d="M2361 934L2406 1000"/><rect class="d" x="2377.1" y="925" width="66" height="75" rx="9"/></g><circle class="d" cx="2407" cy="964" r="53"/><text x="2410.1" y="976.5" font-size="38" text-anchor="middle" style="fill:#fff;stroke:#555;stroke-width:1.1">V1</text><clipPath id="cU1"><circle cx="1833.5" cy="1171.3" r="53"/></clipPath><g clip-path="url(#cU1)"><path class="d" d="M1800.7 1111.3L1800.7 1231.3"/><path class="d" d="M1780 1205.5L1870 1205.5"/><rect class="d" x="1801.7" y="1129.9" width="66" height="75" rx="9"/></g><circle class="d" cx="1833.5" cy="1171.3" r="53"/><text x="1834.7" y="1181.4" font-size="38" text-anchor="middle" style="fill:#fff;stroke:#555;stroke-width:1.1">U1</text><clipPath id="cW1"><circle cx="2407" cy="1171.3" r="53"/></clipPath><g clip-path="url(#cW1)"><path class="d" d="M2373.7 1111.3L2373.7 1231.3"/><path class="d" d="M2360 1205.5L2442 1205.5"/><rect class="d" x="2374.7" y="1131.8" width="66" height="75" rx="9"/></g><circle class="d" cx="2407" cy="1171.3" r="53"/><text x="2407.7" y="1183.3" font-size="38" text-anchor="middle" style="fill:#fff;stroke:#555;stroke-width:1.1">W1</text><text x="2141.3" y="1286.9" font-size="20.8" font-weight="bold" text-anchor="middle">CUSTOMER CONNECTION</text><text x="2129.8" y="1308.4" font-size="19.5" text-anchor="middle" textLength="109" lengthAdjust="spacingAndGlyphs">DETAIL VIEW</text></g>
<g id="bottom"><path class="d" d="M188.4 993.5L188.4 1182.8"/><path class="d" d="M676.2 993.5L676.2 1182.8"/><path class="d" d="M198.2 1046.7L198.2 1182.8"/><path class="d" d="M666.4 1046.7L666.4 1182.8"/><path class="d" d="M242.5 1099.9L242.5 1182.8"/><path class="d" d="M622.1 1099.9L622.1 1182.8"/><path class="d" d="M188.4 1002.8L368 1002.8"/><path class="d" d="M496.6 1002.8L676.2 1002.8"/><path class="a" d="M188.4 1002.8L203.4 999.7L203.4 1005.9Z"/><path class="a" d="M676.2 1002.8L661.2 1005.9L661.2 999.7Z"/><path class="d" d="M198.2 1056L379.1 1056"/><path class="d" d="M485.5 1056L666.4 1056"/><path class="a" d="M198.2 1056L213.2 1052.9L213.2 1059.1Z"/><path class="a" d="M666.4 1056L651.4 1059.1L651.4 1052.9Z"/><path class="d" d="M242.5 1108.7L368 1108.7"/><path class="d" d="M496.6 1108.7L622.1 1108.7"/><path class="a" d="M242.5 1108.7L257.5 1105.6L257.5 1111.8Z"/><path class="a" d="M622.1 1108.7L607.1 1111.8L607.1 1105.6Z"/><text x="432.3" y="997.9" font-size="16.5" text-anchor="middle">52.00</text><text x="432.3" y="1019.2" font-size="16.5" text-anchor="middle">1320.80</text><path class="b" d="M400.5 1005H397.5V1022.8H400.5"/><path class="b" d="M464.1 1005H467.1V1022.8H464.1"/><path class="b" d="M391 983.4Q379 1004.4 391 1025.4"/><path class="b" d="M473.6 983.4Q485.6 1004.4 473.6 1025.4"/><text x="432.3" y="1051.1" font-size="16.5" text-anchor="middle">50.00</text><text x="432.3" y="1072.4" font-size="16.5" text-anchor="middle">1270</text><path class="b" d="M411.9 1058.2H408.9V1076H411.9"/><path class="b" d="M452.7 1058.2H455.7V1076H452.7"/><path class="b" d="M402.4 1036.6Q390.4 1057.6 402.4 1078.6"/><path class="b" d="M462.2 1036.6Q474.2 1057.6 462.2 1078.6"/><text x="432.3" y="1103.9" font-size="16.5" text-anchor="middle">40.50</text><text x="432.3" y="1125.2" font-size="16.5" text-anchor="middle">1028.70</text><path class="b" d="M400.5 1111H397.5V1128.8H400.5"/><path class="b" d="M464.1 1111H467.1V1128.8H464.1"/><path class="b" d="M391 1089.4Q379 1110.4 391 1131.4"/><path class="b" d="M473.6 1089.4Q485.6 1110.4 473.6 1131.4"/><path class="h" d="M209.7 1184.3L209.7 1139.3L655.3 1139.3L655.3 1184.3"/><path class="h" d="M209.7 1519.8L209.7 1565L655.3 1565L655.3 1519.8"/><path class="h" d="M209.7 1184.8L655.3 1184.8"/><path class="h" d="M209.7 1519.4L655.3 1519.4"/><path class="o" d="M207.5 1214L207.5 1490"/><path class="o" d="M210.6 1214L210.6 1490"/><path class="o" d="M214.2 1214L214.2 1490"/><path class="o" d="M224 1214L224 1490"/><path class="o" d="M227 1214L227 1490"/><path class="o" d="M230.6 1214L230.6 1490"/><path class="o" d="M657.6 1214L657.6 1490"/><path class="o" d="M654.5 1214L654.5 1490"/><path class="o" d="M650.9 1214L650.9 1490"/><path class="o" d="M641 1214L641 1490"/><path class="o" d="M638 1214L638 1490"/><path class="o" d="M634 1214L634 1490"/><rect class="m" x="210.6" y="1222" width="3.6" height="260"/><rect class="m" x="650.9" y="1222" width="3.6" height="260"/><rect class="o" x="210.6" y="1214.3" width="20" height="6.5"/><path class="t" d="M216.6 1214.3L216.6 1220.8"/><path class="t" d="M222.6 1214.3L222.6 1220.8"/><rect class="o" x="634" y="1214.3" width="20" height="6.5"/><path class="t" d="M640 1214.3L640 1220.8"/><path class="t" d="M646 1214.3L646 1220.8"/><rect class="o" x="210.6" y="1483" width="20" height="6.5"/><path class="t" d="M216.6 1483L216.6 1489.5"/><path class="t" d="M222.6 1483L222.6 1489.5"/><rect class="o" x="634" y="1483" width="20" height="6.5"/><path class="t" d="M640 1483L640 1489.5"/><path class="t" d="M646 1483L646 1489.5"/><rect class="o" x="201.7" y="1357.9" width="6.7" height="24.4"/><rect class="o" x="656.8" y="1357.9" width="6.7" height="24.4"/><rect class="wo" x="254.1" y="1185.9" width="356.9" height="331.7"/><path class="m" d="M254.1 1204.4L611 1204.4"/><path class="t" d="M256 1185.9L256 1517.6"/><path class="t" d="M609 1185.9L609 1517.6"/><path class="o" d="M254.1 1502L611 1502"/><path class="o" d="M254.1 1513L611 1513"/><rect class="o" x="368.5" y="1189.8" width="3.4" height="8.4" rx="1.7"/><path class="t" d="M368.5 1194L371.9 1194"/><rect class="o" x="492.7" y="1189.8" width="3.4" height="8.4" rx="1.7"/><path class="t" d="M492.7 1194L496.1 1194"/><circle class="o" cx="261.6" cy="1367.7" r="1.4"/><circle class="o" cx="603.9" cy="1367.7" r="1.4"/><defs><g id="sc" class="o"><rect y="1208.1" width="26.2" height="4.4" rx="2.2"/><rect y="1215.1" width="26.2" height="4.4" rx="2.2"/><rect y="1222.2" width="26.2" height="4.4" rx="2.2"/><rect y="1229.2" width="26.2" height="4.4" rx="2.2"/><rect y="1236.2" width="26.2" height="4.4" rx="2.2"/><rect y="1243.2" width="26.2" height="4.4" rx="2.2"/><rect y="1250.3" width="26.2" height="4.4" rx="2.2"/><rect y="1257.3" width="26.2" height="4.4" rx="2.2"/><rect y="1264.3" width="26.2" height="4.4" rx="2.2"/><rect y="1271.4" width="26.2" height="4.4" rx="2.2"/><rect y="1278.4" width="26.2" height="4.4" rx="2.2"/><rect y="1285.4" width="26.2" height="4.4" rx="2.2"/><rect y="1292.5" width="26.2" height="4.4" rx="2.2"/><rect y="1299.5" width="26.2" height="4.4" rx="2.2"/><rect y="1306.5" width="26.2" height="4.4" rx="2.2"/><rect y="1313.5" width="26.2" height="4.4" rx="2.2"/><rect y="1320.6" width="26.2" height="4.4" rx="2.2"/><rect y="1327.6" width="26.2" height="4.4" rx="2.2"/><rect y="1334.6" width="26.2" height="4.4" rx="2.2"/><rect y="1341.7" width="26.2" height="4.4" rx="2.2"/><rect y="1348.7" width="26.2" height="4.4" rx="2.2"/><rect y="1384.3" width="26.2" height="4.4" rx="2.2"/><rect y="1391.3" width="26.2" height="4.4" rx="2.2"/><rect y="1398.4" width="26.2" height="4.4" rx="2.2"/><rect y="1405.4" width="26.2" height="4.4" rx="2.2"/><rect y="1412.4" width="26.2" height="4.4" rx="2.2"/><rect y="1419.5" width="26.2" height="4.4" rx="2.2"/><rect y="1426.5" width="26.2" height="4.4" rx="2.2"/><rect y="1433.5" width="26.2" height="4.4" rx="2.2"/><rect y="1440.5" width="26.2" height="4.4" rx="2.2"/><rect y="1447.6" width="26.2" height="4.4" rx="2.2"/><rect y="1454.6" width="26.2" height="4.4" rx="2.2"/><rect y="1461.6" width="26.2" height="4.4" rx="2.2"/><rect y="1468.7" width="26.2" height="4.4" rx="2.2"/><rect y="1475.7" width="26.2" height="4.4" rx="2.2"/><rect y="1482.7" width="26.2" height="4.4" rx="2.2"/><rect y="1489.8" width="26.2" height="4.4" rx="2.2"/></g></defs><use href="#sc" x="257.4"/><use href="#sc" x="289.8"/><use href="#sc" x="322.1"/><use href="#sc" x="354.4"/><use href="#sc" x="386.8"/><use href="#sc" x="419.1"/><use href="#sc" x="451.5"/><use href="#sc" x="483.9"/><use href="#sc" x="516.2"/><use href="#sc" x="548.5"/><use href="#sc" x="580.9"/><path class="m" d="M260.4 1258.6L279.4 1258.6"/><path class="o" d="M274.4 1257.3L274.4 1261.7"/><path class="m" d="M260.4 1265.6L279.4 1265.6"/><path class="o" d="M274.4 1264.3L274.4 1268.7"/><path class="m" d="M260.4 1272.7L279.4 1272.7"/><path class="o" d="M274.4 1271.4L274.4 1275.8"/><path class="m" d="M260.4 1279.7L279.4 1279.7"/><path class="o" d="M274.4 1278.4L274.4 1282.8"/><path class="m" d="M260.4 1286.7L279.4 1286.7"/><path class="o" d="M274.4 1285.4L274.4 1289.8"/><path class="m" d="M292.8 1258.6L311.8 1258.6"/><path class="o" d="M306.8 1257.3L306.8 1261.7"/><path class="m" d="M292.8 1265.6L311.8 1265.6"/><path class="o" d="M306.8 1264.3L306.8 1268.7"/><path class="m" d="M292.8 1272.7L311.8 1272.7"/><path class="o" d="M306.8 1271.4L306.8 1275.8"/><path class="m" d="M292.8 1279.7L311.8 1279.7"/><path class="o" d="M306.8 1278.4L306.8 1282.8"/><path class="m" d="M292.8 1286.7L311.8 1286.7"/><path class="o" d="M306.8 1285.4L306.8 1289.8"/><path class="m" d="M325.1 1258.6L344.1 1258.6"/><path class="o" d="M339.1 1257.3L339.1 1261.7"/><path class="m" d="M325.1 1265.6L344.1 1265.6"/><path class="o" d="M339.1 1264.3L339.1 1268.7"/><path class="m" d="M325.1 1272.7L344.1 1272.7"/><path class="o" d="M339.1 1271.4L339.1 1275.8"/><path class="m" d="M325.1 1279.7L344.1 1279.7"/><path class="o" d="M339.1 1278.4L339.1 1282.8"/><path class="m" d="M325.1 1286.7L344.1 1286.7"/><path class="o" d="M339.1 1285.4L339.1 1289.8"/><path class="m" d="M357.4 1258.6L376.4 1258.6"/><path class="o" d="M371.4 1257.3L371.4 1261.7"/><path class="m" d="M357.4 1265.6L376.4 1265.6"/><path class="o" d="M371.4 1264.3L371.4 1268.7"/><path class="m" d="M357.4 1272.7L376.4 1272.7"/><path class="o" d="M371.4 1271.4L371.4 1275.8"/><path class="m" d="M357.4 1279.7L376.4 1279.7"/><path class="o" d="M371.4 1278.4L371.4 1282.8"/><path class="m" d="M357.4 1286.7L376.4 1286.7"/><path class="o" d="M371.4 1285.4L371.4 1289.8"/><path class="m" d="M389.8 1258.6L408.8 1258.6"/><path class="o" d="M403.8 1257.3L403.8 1261.7"/><path class="m" d="M389.8 1265.6L408.8 1265.6"/><path class="o" d="M403.8 1264.3L403.8 1268.7"/><path class="m" d="M389.8 1272.7L408.8 1272.7"/><path class="o" d="M403.8 1271.4L403.8 1275.8"/><path class="m" d="M389.8 1279.7L408.8 1279.7"/><path class="o" d="M403.8 1278.4L403.8 1282.8"/><path class="m" d="M389.8 1286.7L408.8 1286.7"/><path class="o" d="M403.8 1285.4L403.8 1289.8"/><path class="m" d="M422.1 1258.6L441.1 1258.6"/><path class="o" d="M436.1 1257.3L436.1 1261.7"/><path class="m" d="M422.1 1265.6L441.1 1265.6"/><path class="o" d="M436.1 1264.3L436.1 1268.7"/><path class="m" d="M422.1 1272.7L441.1 1272.7"/><path class="o" d="M436.1 1271.4L436.1 1275.8"/><path class="m" d="M422.1 1279.7L441.1 1279.7"/><path class="o" d="M436.1 1278.4L436.1 1282.8"/><path class="m" d="M422.1 1286.7L441.1 1286.7"/><path class="o" d="M436.1 1285.4L436.1 1289.8"/><path class="m" d="M259.4 1293.3L281.4 1293.3"/><path class="m" d="M259.4 1307.3L281.4 1307.3"/><path class="m" d="M259.4 1314.3L281.4 1314.3"/><path class="m" d="M291.8 1293.3L313.8 1293.3"/><path class="m" d="M291.8 1307.3L313.8 1307.3"/><path class="m" d="M291.8 1314.3L313.8 1314.3"/><path class="m" d="M324.1 1293.3L346.1 1293.3"/><path class="m" d="M324.1 1307.3L346.1 1307.3"/><path class="m" d="M324.1 1314.3L346.1 1314.3"/><path class="m" d="M356.4 1293.3L378.4 1293.3"/><path class="m" d="M356.4 1307.3L378.4 1307.3"/><path class="m" d="M356.4 1314.3L378.4 1314.3"/><path class="m" d="M388.8 1293.3L410.8 1293.3"/><path class="m" d="M388.8 1307.3L410.8 1307.3"/><path class="m" d="M388.8 1314.3L410.8 1314.3"/><path class="m" d="M421.1 1293.3L443.1 1293.3"/><path class="m" d="M421.1 1307.3L443.1 1307.3"/><path class="m" d="M421.1 1314.3L443.1 1314.3"/><path class="m" d="M453.5 1293.3L475.5 1293.3"/><path class="m" d="M453.5 1307.3L475.5 1307.3"/><path class="m" d="M453.5 1314.3L475.5 1314.3"/><path class="m" d="M485.9 1293.3L507.9 1293.3"/><path class="m" d="M485.9 1307.3L507.9 1307.3"/><path class="m" d="M485.9 1314.3L507.9 1314.3"/><path class="m" d="M518.2 1293.3L540.2 1293.3"/><path class="m" d="M518.2 1307.3L540.2 1307.3"/><path class="m" d="M518.2 1314.3L540.2 1314.3"/><path class="m" d="M550.5 1293.3L572.5 1293.3"/><path class="m" d="M550.5 1307.3L572.5 1307.3"/><path class="m" d="M550.5 1314.3L572.5 1314.3"/><path class="m" d="M582.9 1293.3L604.9 1293.3"/><path class="m" d="M582.9 1307.3L604.9 1307.3"/><path class="m" d="M582.9 1314.3L604.9 1314.3"/><rect class="k" x="583.9" y="1209.2" width="10.9" height="2.2" rx="1"/><rect class="k" x="550.9" y="1209.2" width="7.1" height="2.2" rx="1"/><rect class="k" x="582.5" y="1216.2" width="15" height="2.2" rx="1"/><rect class="k" x="550.3" y="1216.2" width="4.9" height="2.2" rx="1"/><rect class="k" x="582.7" y="1223.3" width="18.7" height="2.2" rx="1"/><rect class="k" x="552.2" y="1223.3" width="7.5" height="2.2" rx="1"/><rect class="k" x="584.6" y="1230.3" width="13.8" height="2.2" rx="1"/><rect class="k" x="550.7" y="1230.3" width="8.5" height="2.2" rx="1"/><rect class="k" x="583.1" y="1237.3" width="10.6" height="2.2" rx="1"/><rect class="k" x="583.9" y="1244.3" width="15.9" height="2.2" rx="1"/><rect class="k" x="550.2" y="1244.3" width="7.1" height="2.2" rx="1"/><rect class="k" x="584" y="1251.4" width="11.6" height="2.2" rx="1"/><rect class="k" x="551.4" y="1251.4" width="6" height="2.2" rx="1"/><rect class="k" x="584.2" y="1258.4" width="12.6" height="2.2" rx="1"/><rect class="k" x="583.6" y="1265.4" width="15.8" height="2.2" rx="1"/><rect class="k" x="584.7" y="1272.5" width="12.5" height="2.2" rx="1"/><rect class="k" x="551.8" y="1272.5" width="6.5" height="2.2" rx="1"/><rect class="k" x="582.5" y="1279.5" width="14.8" height="2.2" rx="1"/><rect class="k" x="584.4" y="1286.5" width="15.8" height="2.2" rx="1"/><rect class="k" x="551.4" y="1286.5" width="7.8" height="2.2" rx="1"/><rect class="k" x="584.3" y="1293.6" width="14.4" height="2.2" rx="1"/><rect class="k" x="582.5" y="1307.6" width="16.8" height="2.2" rx="1"/><rect class="k" x="584.7" y="1314.6" width="16.6" height="2.2" rx="1"/><rect class="k" x="583.9" y="1328.7" width="13.6" height="2.2" rx="1"/><rect class="k" x="582.8" y="1335.7" width="14.5" height="2.2" rx="1"/><rect class="k" x="584.2" y="1342.8" width="9.9" height="2.2" rx="1"/><rect class="k" x="583.3" y="1349.8" width="12" height="2.2" rx="1"/><rect class="k" x="455.5" y="1321.7" width="12.1" height="2.2" rx="1"/><rect class="k" x="454.7" y="1349.8" width="11.7" height="2.2" rx="1"/><rect class="k" x="486.4" y="1328.7" width="8.9" height="2.2" rx="1"/><rect class="k" x="488.1" y="1335.7" width="12.5" height="2.2" rx="1"/><rect class="k" x="487.3" y="1342.8" width="6.9" height="2.2" rx="1"/><rect class="k" x="489.7" y="1349.8" width="13.4" height="2.2" rx="1"/><rect class="k" x="520.5" y="1314.6" width="12.8" height="2.2" rx="1"/><rect class="k" x="521.8" y="1321.7" width="7.5" height="2.2" rx="1"/><rect class="k" x="518.2" y="1349.8" width="11.5" height="2.2" rx="1"/><rect class="k" x="453.5" y="1392.4" width="10" height="2.2" rx="1"/><rect class="k" x="453.1" y="1399.5" width="13.1" height="2.2" rx="1"/><rect class="k" x="453.2" y="1406.5" width="10.9" height="2.2" rx="1"/><rect class="k" x="455" y="1413.5" width="9.5" height="2.2" rx="1"/><rect class="k" x="453.8" y="1427.6" width="12.1" height="2.2" rx="1"/><rect class="k" x="455" y="1434.6" width="10.6" height="2.2" rx="1"/><rect class="k" x="453.2" y="1448.7" width="14.8" height="2.2" rx="1"/><rect class="k" x="485.4" y="1399.5" width="15.4" height="2.2" rx="1"/><rect class="k" x="485.7" y="1434.6" width="13.4" height="2.2" rx="1"/><rect class="k" x="518.9" y="1399.5" width="11.8" height="2.2" rx="1"/><rect class="k" x="517.8" y="1406.5" width="9.5" height="2.2" rx="1"/><rect class="k" x="519.3" y="1413.5" width="12.2" height="2.2" rx="1"/><rect class="k" x="520" y="1427.6" width="20" height="2.2" rx="1"/><rect class="k" x="518.2" y="1441.6" width="11.7" height="2.2" rx="1"/><rect class="k" x="519.1" y="1448.7" width="11.6" height="2.2" rx="1"/><rect class="k" x="584.2" y="1385.4" width="19.7" height="2.2" rx="1"/><rect class="k" x="582.8" y="1392.4" width="14.7" height="2.2" rx="1"/><rect class="k" x="584.2" y="1399.5" width="13" height="2.2" rx="1"/><rect class="k" x="584.6" y="1413.5" width="13.8" height="2.2" rx="1"/><rect class="k" x="582.7" y="1420.5" width="11.2" height="2.2" rx="1"/><rect class="k" x="584.3" y="1427.6" width="19.6" height="2.2" rx="1"/><rect class="k" x="584.7" y="1434.6" width="18.7" height="2.2" rx="1"/><rect class="k" x="583.7" y="1441.6" width="13.2" height="2.2" rx="1"/><rect class="k" x="584.6" y="1448.7" width="9.4" height="2.2" rx="1"/><rect class="k" x="584.5" y="1455.7" width="15.3" height="2.2" rx="1"/><rect class="k" x="584.3" y="1462.7" width="19.2" height="2.2" rx="1"/><rect class="k" x="583.1" y="1469.8" width="12.1" height="2.2" rx="1"/><rect class="k" x="583" y="1476.8" width="15.9" height="2.2" rx="1"/><rect class="k" x="584.5" y="1483.8" width="10.7" height="2.2" rx="1"/><rect class="k" x="583.7" y="1490.8" width="14.5" height="2.2" rx="1"/><rect class="wo" x="188.4" y="1185" width="63.5" height="29" rx="1.5"/><rect class="o" x="195.3" y="1189.2" width="5.2" height="9.6" rx="2.6"/><rect class="t" x="196.7" y="1190.5" width="2.4" height="7" rx="1.2"/><rect class="o" x="239.8" y="1189.2" width="5.2" height="9.6" rx="2.6"/><rect class="t" x="241.2" y="1190.5" width="2.4" height="7" rx="1.2"/><rect class="wo" x="188.4" y="1490" width="63.5" height="29" rx="1.5"/><rect class="o" x="195.3" y="1494.2" width="5.2" height="9.6" rx="2.6"/><rect class="t" x="196.7" y="1495.5" width="2.4" height="7" rx="1.2"/><rect class="o" x="239.8" y="1494.2" width="5.2" height="9.6" rx="2.6"/><rect class="t" x="241.2" y="1495.5" width="2.4" height="7" rx="1.2"/><rect class="wo" x="612.8" y="1185" width="63.5" height="29" rx="1.5"/><rect class="o" x="619.7" y="1189.2" width="5.2" height="9.6" rx="2.6"/><rect class="t" x="621.1" y="1190.5" width="2.4" height="7" rx="1.2"/><rect class="o" x="664.2" y="1189.2" width="5.2" height="9.6" rx="2.6"/><rect class="t" x="665.6" y="1190.5" width="2.4" height="7" rx="1.2"/><rect class="wo" x="612.8" y="1490" width="63.5" height="29" rx="1.5"/><rect class="o" x="619.7" y="1494.2" width="5.2" height="9.6" rx="2.6"/><rect class="t" x="621.1" y="1495.5" width="2.4" height="7" rx="1.2"/><rect class="o" x="664.2" y="1494.2" width="5.2" height="9.6" rx="2.6"/><rect class="t" x="665.6" y="1495.5" width="2.4" height="7" rx="1.2"/><path class="d" d="M676.2 1193.9L758.2 1193.9"/><path class="d" d="M676.2 1510L758.2 1510"/><path class="d" d="M748.9 1193.9L748.9 1331.3"/><path class="d" d="M748.9 1380L748.9 1510"/><path class="a" d="M748.9 1193.9L752 1208.9L745.8 1208.9Z"/><path class="a" d="M748.9 1510L745.8 1495L752 1495Z"/><text x="748.9" y="1349.9" font-size="16.5" text-anchor="middle">33.75</text><text x="748.9" y="1371.2" font-size="16.5" text-anchor="middle">857.25</text><path class="b" d="M721.7 1357H718.7V1374.8H721.7"/><path class="b" d="M776.1 1357H779.1V1374.8H776.1"/><path class="b" d="M712.2 1335.4Q700.2 1356.4 712.2 1377.4"/><path class="b" d="M785.6 1335.4Q797.6 1356.4 785.6 1377.4"/><path class="l" d="M669.5 1191.7L718.3 1139.8"/><path class="d" d="M718.3 1139.8L739.6 1139.8"/><path class="a" d="M669.5 1191.7L677.5 1178.6L682 1182.9Z"/><path class="b" d="M743.5 1116.3Q733 1137 743.5 1157.5M954.5 1116.3Q965 1137 954.5 1157.5"/><circle class="b" cx="751.6" cy="1127" r="5.2"/><path class="b" d="M748.4 1134.4L755 1119.8"/><text x="766.2" y="1132.7" font-size="16.5">.56</text><text x="798" y="1132.7" font-size="16.5">14.29</text><path class="b" d="M795.8 1117.6H792.8V1136.2H795.8M838.1 1117.6H841.1V1136.2H838.1"/><text x="851" y="1132.7" font-size="16.5">X 1.00</text><text x="908" y="1132.7" font-size="16.5">25.40</text><path class="b" d="M905.4 1117.6H902.4V1136.2H905.4M948.4 1117.6H951.4V1136.2H948.4"/><text x="849.5" y="1153.1" font-size="16.5" text-anchor="middle">SLOT, 8 PLACES</text><text x="432.3" y="1587.2" font-size="20.8" font-weight="bold" text-anchor="middle">BOTTOM VIEW</text></g>
<g id="top"><defs><g id="t4" class="o"><rect y="0" width="26.2" height="4.5" rx="2.25"/><rect y="6.9" width="26.2" height="4.5" rx="2.25"/><rect y="13.8" width="26.2" height="4.5" rx="2.25"/><rect y="20.7" width="26.2" height="4.5" rx="2.25"/></g><g id="t18" class="o"><rect y="0" width="26.2" height="4.5" rx="2.25"/><rect y="7.2" width="26.2" height="4.5" rx="2.25"/><rect y="14.4" width="26.2" height="4.5" rx="2.25"/><rect y="21.6" width="26.2" height="4.5" rx="2.25"/><rect y="28.8" width="26.2" height="4.5" rx="2.25"/><rect y="36" width="26.2" height="4.5" rx="2.25"/><rect y="43.2" width="26.2" height="4.5" rx="2.25"/><rect y="50.4" width="26.2" height="4.5" rx="2.25"/><rect y="57.6" width="26.2" height="4.5" rx="2.25"/><rect y="64.8" width="26.2" height="4.5" rx="2.25"/><rect y="72" width="26.2" height="4.5" rx="2.25"/><rect y="79.2" width="26.2" height="4.5" rx="2.25"/><rect y="86.4" width="26.2" height="4.5" rx="2.25"/><rect y="93.6" width="26.2" height="4.5" rx="2.25"/><rect y="100.8" width="26.2" height="4.5" rx="2.25"/><rect y="108" width="26.2" height="4.5" rx="2.25"/><rect y="115.2" width="26.2" height="4.5" rx="2.25"/><rect y="122.4" width="26.2" height="4.5" rx="2.25"/></g><g id="t11" class="o"><rect y="0" width="26.2" height="4.5" rx="2.25"/><rect y="7" width="26.2" height="4.5" rx="2.25"/><rect y="14.1" width="26.2" height="4.5" rx="2.25"/><rect y="21.1" width="26.2" height="4.5" rx="2.25"/><rect y="28.2" width="26.2" height="4.5" rx="2.25"/><rect y="35.2" width="26.2" height="4.5" rx="2.25"/><rect y="42.3" width="26.2" height="4.5" rx="2.25"/><rect y="49.4" width="26.2" height="4.5" rx="2.25"/><rect y="56.4" width="26.2" height="4.5" rx="2.25"/><rect y="63.4" width="26.2" height="4.5" rx="2.25"/><rect y="70.5" width="26.2" height="4.5" rx="2.25"/></g></defs><clipPath id="tvc"><rect x="1300" y="1190" width="122" height="287"/></clipPath><rect class="m" x="997.7" y="1120.7" width="446.5" height="425.7"/><rect class="o" x="977.3" y="1166.4" width="21.2" height="28.6" rx="1.5"/><rect class="o" x="983.8" y="1171.1" width="5.6" height="9.6" rx="2.8"/><rect class="o" x="977.3" y="1471.9" width="21.2" height="28.6" rx="1.5"/><rect class="o" x="983.8" y="1487.6" width="5.6" height="9.6" rx="2.8"/><rect class="o" x="1444.2" y="1166.4" width="21.2" height="28.6" rx="1.5"/><rect class="o" x="1452.9" y="1171.1" width="5.6" height="9.6" rx="2.8"/><rect class="o" x="1444.2" y="1471.9" width="21.2" height="28.6" rx="1.5"/><rect class="o" x="1452.9" y="1487.6" width="5.6" height="9.6" rx="2.8"/><path class="o" d="M1000 1189.4L1000 1477.6"/><path class="o" d="M1002.9 1189.4L1002.9 1477.6"/><path class="o" d="M1014.3 1189.4L1014.3 1477.6"/><path class="o" d="M1016.4 1189.4L1016.4 1477.6"/><path class="o" d="M1018.6 1189.4L1018.6 1477.6"/><path class="o" d="M1422 1189.4L1422 1477.6"/><path class="o" d="M1425.5 1189.4L1425.5 1477.6"/><path class="o" d="M1435.5 1189.4L1435.5 1477.6"/><path class="o" d="M1440 1189.4L1440 1477.6"/><path class="o" d="M1443 1189.4L1443 1477.6"/><circle class="k" cx="1440" cy="1210" r="1.3"/><circle class="k" cx="1001.5" cy="1210" r="1.2"/><circle class="k" cx="1440" cy="1235" r="1.3"/><circle class="k" cx="1001.5" cy="1235" r="1.2"/><circle class="k" cx="1440" cy="1290" r="1.3"/><circle class="k" cx="1001.5" cy="1290" r="1.2"/><circle class="k" cx="1440" cy="1335" r="1.3"/><circle class="k" cx="1001.5" cy="1335" r="1.2"/><circle class="k" cx="1440" cy="1365" r="1.3"/><circle class="k" cx="1001.5" cy="1365" r="1.2"/><circle class="k" cx="1440" cy="1420" r="1.3"/><circle class="k" cx="1001.5" cy="1420" r="1.2"/><circle class="k" cx="1440" cy="1450" r="1.3"/><circle class="k" cx="1001.5" cy="1450" r="1.2"/><rect class="o" x="990.5" y="1301" width="7.5" height="29.5"/><rect class="o" x="1444.2" y="1301" width="7.8" height="29.5"/><rect class="o" x="998" y="1311" width="6" height="4" rx="1"/><use href="#t4" x="1045.1" y="1192.6"/><use href="#t4" x="1077.4" y="1192.6"/><use href="#t4" x="1109.8" y="1192.6"/><use href="#t4" x="1142.1" y="1192.6"/><use href="#t4" x="1174.5" y="1192.6"/><use href="#t4" x="1206.8" y="1192.6"/><use href="#t4" x="1239.2" y="1192.6"/><use href="#t4" x="1271.5" y="1192.6"/><use href="#t4" x="1303.9" y="1192.6"/><use href="#t4" x="1336.2" y="1192.6"/><use href="#t4" x="1368.6" y="1192.6"/><use href="#t11" x="1239.2" y="1400"/><use href="#t11" x="1271.5" y="1400"/><use href="#t11" x="1303.9" y="1400"/><use href="#t11" x="1336.2" y="1400"/><use href="#t11" x="1368.6" y="1400"/><g class="o"><rect x="1045.1" y="1435" width="26.2" height="4.5" rx="2.25"/><rect x="1045.1" y="1442" width="26.2" height="4.5" rx="2.25"/><rect x="1045.1" y="1449.1" width="26.2" height="4.5" rx="2.25"/><rect x="1045.1" y="1456.2" width="26.2" height="4.5" rx="2.25"/><rect x="1045.1" y="1463.2" width="26.2" height="4.5" rx="2.25"/><rect x="1045.1" y="1470.2" width="26.2" height="4.5" rx="2.25"/></g><g class="o"><rect x="1077.4" y="1435" width="26.2" height="4.5" rx="2.25"/><rect x="1077.4" y="1442" width="26.2" height="4.5" rx="2.25"/><rect x="1077.4" y="1449.1" width="26.2" height="4.5" rx="2.25"/><rect x="1077.4" y="1456.2" width="26.2" height="4.5" rx="2.25"/><rect x="1077.4" y="1463.2" width="26.2" height="4.5" rx="2.25"/><rect x="1077.4" y="1470.2" width="26.2" height="4.5" rx="2.25"/></g><g class="o"><rect x="1109.8" y="1435" width="26.2" height="4.5" rx="2.25"/><rect x="1109.8" y="1442" width="26.2" height="4.5" rx="2.25"/><rect x="1109.8" y="1449.1" width="26.2" height="4.5" rx="2.25"/><rect x="1109.8" y="1456.2" width="26.2" height="4.5" rx="2.25"/><rect x="1109.8" y="1463.2" width="26.2" height="4.5" rx="2.25"/><rect x="1109.8" y="1470.2" width="26.2" height="4.5" rx="2.25"/></g><g class="o"><rect x="1142.1" y="1435" width="26.2" height="4.5" rx="2.25"/><rect x="1142.1" y="1442" width="26.2" height="4.5" rx="2.25"/><rect x="1142.1" y="1449.1" width="26.2" height="4.5" rx="2.25"/><rect x="1142.1" y="1456.2" width="26.2" height="4.5" rx="2.25"/><rect x="1142.1" y="1463.2" width="26.2" height="4.5" rx="2.25"/><rect x="1142.1" y="1470.2" width="26.2" height="4.5" rx="2.25"/></g><g class="o"><rect x="1174.5" y="1435" width="26.2" height="4.5" rx="2.25"/><rect x="1174.5" y="1442" width="26.2" height="4.5" rx="2.25"/><rect x="1174.5" y="1449.1" width="26.2" height="4.5" rx="2.25"/><rect x="1174.5" y="1456.2" width="26.2" height="4.5" rx="2.25"/><rect x="1174.5" y="1463.2" width="26.2" height="4.5" rx="2.25"/><rect x="1174.5" y="1470.2" width="26.2" height="4.5" rx="2.25"/></g><g class="o"><rect x="1206.8" y="1435" width="26.2" height="4.5" rx="2.25"/><rect x="1206.8" y="1442" width="26.2" height="4.5" rx="2.25"/><rect x="1206.8" y="1449.1" width="26.2" height="4.5" rx="2.25"/><rect x="1206.8" y="1456.2" width="26.2" height="4.5" rx="2.25"/><rect x="1206.8" y="1463.2" width="26.2" height="4.5" rx="2.25"/><rect x="1206.8" y="1470.2" width="26.2" height="4.5" rx="2.25"/></g><use href="#t18" x="1252.8" y="1246.3"/><use href="#t18" x="1309" y="1246.3"/><rect x="1254.5" y="1247.3" width="14" height="2.6" fill="#999"/><rect x="1311" y="1247.3" width="14" height="2.6" fill="#aaa"/><rect x="1254.5" y="1254.5" width="14" height="2.6" fill="#999"/><rect x="1311" y="1254.5" width="14" height="2.6" fill="#aaa"/><rect x="1254.5" y="1261.7" width="14" height="2.6" fill="#999"/><rect x="1311" y="1261.7" width="14" height="2.6" fill="#aaa"/><rect x="1254.5" y="1268.9" width="14" height="2.6" fill="#999"/><rect x="1311" y="1268.9" width="14" height="2.6" fill="#aaa"/><rect x="1254.5" y="1276.1" width="14" height="2.6" fill="#999"/><rect x="1311" y="1276.1" width="14" height="2.6" fill="#aaa"/><rect x="1254.5" y="1283.3" width="14" height="2.6" fill="#999"/><rect x="1311" y="1283.3" width="14" height="2.6" fill="#aaa"/><rect x="1254.5" y="1290.5" width="14" height="2.6" fill="#999"/><rect x="1311" y="1290.5" width="14" height="2.6" fill="#aaa"/><rect x="1254.5" y="1297.7" width="14" height="2.6" fill="#999"/><rect x="1311" y="1297.7" width="14" height="2.6" fill="#aaa"/><rect x="1254.5" y="1304.9" width="14" height="2.6" fill="#999"/><rect x="1254.5" y="1326.7" width="12" height="2" fill="#aaa"/><rect x="1254.5" y="1333.9" width="12" height="2" fill="#aaa"/><rect x="1254.5" y="1341.1" width="12" height="2" fill="#aaa"/><rect x="1254.5" y="1348.3" width="12" height="2" fill="#aaa"/><rect x="1254.5" y="1355.5" width="12" height="2" fill="#aaa"/><rect x="1254.5" y="1362.7" width="12" height="2" fill="#aaa"/><rect x="1254.5" y="1369.9" width="12" height="2" fill="#aaa"/><path class="o" d="M1018.6 1220L1360 1220"/><path class="o" d="M1018.6 1397.3L1360 1397.3"/><path class="o" d="M1037.9 1189.4L1037.9 1220"/><rect class="t" x="1020.5" y="1190" width="17.4" height="12.5"/><path class="k" d="M1025 1214.3L1029.6 1211.3L1034.2 1214.3L1029.6 1217.3Z"/><path class="o" d="M1037.9 1397.3L1037.9 1477"/><path class="k" d="M1025 1453L1029.6 1450L1034.2 1453L1029.6 1456Z"/><circle class="o" cx="1293.4" cy="1275.9" r="2.4"/><circle class="o" cx="1293.4" cy="1318.9" r="2.4"/><rect class="o" x="1339.5" y="1272.4" width="13.5" height="7"/><rect class="k" x="1341.5" y="1273.9" width="4" height="4"/><rect class="k" x="1348" y="1273.9" width="4" height="4"/><rect class="o" x="1339.5" y="1337.5" width="13.5" height="7"/><rect class="k" x="1341.5" y="1339" width="4" height="4"/><rect class="k" x="1348" y="1339" width="4" height="4"/><path class="t" d="M1038.5 1233.6Q1040.5 1221.3 1054.5 1221.3H1084.5Q1098.5 1221.3 1100.5 1233.6"/><path d="M1044.5 1233.6L1056.5 1223.5H1082.5L1094.5 1233.6" fill="none" stroke="#000" stroke-width="2.6"/><rect class="k" x="1053.5" y="1226.5" width="32" height="2.2"/><path class="t" d="M1038.5 1382.3Q1040.5 1394.7 1054.5 1394.7H1084.5Q1098.5 1394.7 1100.5 1382.3"/><path d="M1044.5 1382.3L1056.5 1392.5H1082.5L1094.5 1382.3" fill="none" stroke="#000" stroke-width="2.6"/><rect class="k" x="1053.5" y="1382.3" width="32" height="2.2"/><path class="t" d="M1107.2 1233.6Q1109.2 1221.3 1123.2 1221.3H1153.2Q1167.2 1221.3 1169.2 1233.6"/><path d="M1113.2 1233.6L1125.2 1223.5H1151.2L1163.2 1233.6" fill="none" stroke="#000" stroke-width="2.6"/><rect class="k" x="1122.2" y="1226.5" width="32" height="2.2"/><path class="t" d="M1107.2 1382.3Q1109.2 1394.7 1123.2 1394.7H1153.2Q1167.2 1394.7 1169.2 1382.3"/><path d="M1113.2 1382.3L1125.2 1392.5H1151.2L1163.2 1382.3" fill="none" stroke="#000" stroke-width="2.6"/><rect class="k" x="1122.2" y="1382.3" width="32" height="2.2"/><path class="t" d="M1175.9 1233.6Q1177.9 1221.3 1191.9 1221.3H1221.9Q1235.9 1221.3 1237.9 1233.6"/><path d="M1181.9 1233.6L1193.9 1223.5H1219.9L1231.9 1233.6" fill="none" stroke="#000" stroke-width="2.6"/><rect class="k" x="1190.9" y="1226.5" width="32" height="2.2"/><path class="t" d="M1175.9 1382.3Q1177.9 1394.7 1191.9 1394.7H1221.9Q1235.9 1394.7 1237.9 1382.3"/><path d="M1181.9 1382.3L1193.9 1392.5H1219.9L1231.9 1382.3" fill="none" stroke="#000" stroke-width="2.6"/><rect class="k" x="1190.9" y="1382.3" width="32" height="2.2"/><rect class="wo" x="1025.3" y="1233.6" width="225.8" height="23.5"/><rect class="wo" x="1025.3" y="1355.7" width="225.8" height="26.6"/><path class="o" d="M1025.3 1253.6L1251.1 1253.6"/><path class="o" d="M1025.3 1359.2L1251.1 1359.2"/><path d="M1057.5 1224L1047.3 1240V1376L1057.5 1392" fill="none" stroke="#000" stroke-width="4.5" stroke-linejoin="round"/><path d="M1218.9 1224L1228.5 1240V1376L1218.9 1392" fill="none" stroke="#000" stroke-width="4.5" stroke-linejoin="round"/><path d="M1047.3 1243V1373M1228.5 1243V1373" fill="none" stroke="#000" stroke-width="10.5" stroke-linecap="round"/><path d="M1045.5 1245V1371M1049.5 1245V1371M1226.5 1245V1371M1230.5 1245V1371" fill="none" stroke="#fff" stroke-width="0.5"/><rect class="wo" x="1053.6" y="1236" width="169.3" height="141.9"/><path class="o" d="M1053.6 1253.6L1222.9 1253.6"/><path class="o" d="M1053.6 1257.1L1222.9 1257.1"/><path class="o" d="M1053.6 1355.7L1222.9 1355.7"/><path class="o" d="M1053.6 1359.2L1222.9 1359.2"/><path class="o" d="M1055.5 1257.1L1055.5 1355.7"/><path class="o" d="M1221 1257.1L1221 1355.7"/><circle class="wo" cx="1035" cy="1242.9" r="5"/><path class="m" d="M1031 1242.9L1035 1238.3L1039 1242.9L1035 1247.5Z"/><circle class="wo" cx="1241.4" cy="1242.9" r="5"/><path class="m" d="M1237.4 1242.9L1241.4 1238.3L1245.4 1242.9L1241.4 1247.5Z"/><circle class="wo" cx="1063.1" cy="1242.9" r="4.7"/><path class="m" d="M1058.4 1242.9L1067.8 1242.9"/><circle class="wo" cx="1213.1" cy="1242.9" r="4.7"/><path class="m" d="M1208.4 1242.9L1217.8 1242.9"/><rect class="wo" x="1101.7" y="1237.9" width="5.2" height="10" rx="2.6"/><rect class="k" x="1103.3" y="1240.4" width="2" height="5" rx="1"/><rect class="wo" x="1169.3" y="1237.9" width="5.2" height="10" rx="2.6"/><rect class="k" x="1170.9" y="1240.4" width="2" height="5" rx="1"/><circle class="wo" cx="1035" cy="1370" r="5"/><path class="m" d="M1031 1370L1035 1365.4L1039 1370L1035 1374.6Z"/><circle class="wo" cx="1241.4" cy="1370" r="5"/><path class="m" d="M1237.4 1370L1241.4 1365.4L1245.4 1370L1241.4 1374.6Z"/><circle class="wo" cx="1063.1" cy="1370" r="4.7"/><path class="m" d="M1058.4 1370L1067.8 1370"/><circle class="wo" cx="1213.1" cy="1370" r="4.7"/><path class="m" d="M1208.4 1370L1217.8 1370"/><rect class="wo" x="1101.7" y="1365" width="5.2" height="10" rx="2.6"/><rect class="k" x="1103.3" y="1367.5" width="2" height="5" rx="1"/><rect class="wo" x="1169.3" y="1365" width="5.2" height="10" rx="2.6"/><rect class="k" x="1170.9" y="1367.5" width="2" height="5" rx="1"/><rect class="k" x="1135.2" y="1242.2" width="1.6" height="1.6"/><rect class="k" x="1140" y="1242.2" width="1.6" height="1.6"/><circle class="m" cx="1035" cy="1259.3" r="2.6"/><circle class="m" cx="1241.4" cy="1259.3" r="2.6"/><circle class="m" cx="1035" cy="1272.9" r="2.6"/><circle class="m" cx="1241.4" cy="1272.9" r="2.6"/><circle class="m" cx="1035" cy="1286.9" r="2.6"/><circle class="m" cx="1241.4" cy="1286.9" r="2.6"/><rect class="o" x="1131" y="1304.2" width="14.5" height="5.4" rx="2.5"/><rect class="k" x="1133.5" y="1306" width="9.5" height="1.8"/><rect class="wo" x="1129.5" y="1364.5" width="17" height="13.5"/><rect class="k" x="1131" y="1365.5" width="3.6" height="5"/><rect class="k" x="1131" y="1372" width="3.6" height="5"/><rect class="k" x="1136.3" y="1365.5" width="3.6" height="5"/><rect class="k" x="1136.3" y="1372" width="3.6" height="5"/><rect class="k" x="1141.6" y="1365.5" width="3.6" height="5"/><rect class="k" x="1141.6" y="1372" width="3.6" height="5"/><path class="m" d="M1138 1364.5C1142 1357 1155 1358 1160 1364C1165 1370 1170 1368 1172 1366"/><rect class="wo" x="1060.5" y="1398" width="18" height="6"/><rect class="wh" x="1062.5" y="1400" width="6" height="8" rx="1"/><rect class="wh" x="1070.5" y="1400" width="6" height="8" rx="1"/><rect class="o" x="1045.5" y="1397.5" width="14" height="33.5"/><rect class="o" x="1079.5" y="1397.5" width="14" height="33.5"/><rect class="wo" x="1129.2" y="1398" width="18" height="6"/><rect class="wh" x="1131.2" y="1400" width="6" height="8" rx="1"/><rect class="wh" x="1139.2" y="1400" width="6" height="8" rx="1"/><rect class="o" x="1114.2" y="1397.5" width="14" height="33.5"/><rect class="o" x="1148.2" y="1397.5" width="14" height="33.5"/><rect class="wo" x="1197.9" y="1398" width="18" height="6"/><rect class="wh" x="1199.9" y="1400" width="6" height="8" rx="1"/><rect class="wh" x="1207.9" y="1400" width="6" height="8" rx="1"/><rect class="o" x="1182.9" y="1397.5" width="14" height="33.5"/><rect class="o" x="1216.9" y="1397.5" width="14" height="33.5"/><rect class="wo" x="1027.4" y="1413.3" width="35.4" height="17.8"/><circle class="o" cx="1030.4" cy="1416.5" r="1"/><path class="t" d="M1027.4 1427.5L1062.8 1427.5"/><rect class="wo" x="1078.4" y="1413.3" width="15.5" height="17.8"/><circle class="o" cx="1081.4" cy="1416.5" r="1"/><path class="t" d="M1078.4 1427.5L1093.9 1427.5"/><rect class="wo" x="1096.1" y="1413.3" width="33.2" height="17.8"/><circle class="o" cx="1099.1" cy="1416.5" r="1"/><path class="t" d="M1096.1 1427.5L1129.3 1427.5"/><rect class="wo" x="1146.2" y="1413.3" width="16.4" height="17.8"/><circle class="o" cx="1149.2" cy="1416.5" r="1"/><path class="t" d="M1146.2 1427.5L1162.6 1427.5"/><rect class="wo" x="1162.6" y="1413.3" width="34.1" height="17.8"/><circle class="o" cx="1165.6" cy="1416.5" r="1"/><path class="t" d="M1162.6 1427.5L1196.7 1427.5"/><rect class="wo" x="1213.6" y="1413.3" width="34.6" height="17.8"/><circle class="o" cx="1216.6" cy="1416.5" r="1"/><path class="t" d="M1213.6 1427.5L1248.2 1427.5"/><path d="M1236 1388H1300C1330 1388 1345 1394 1362 1392" fill="none" stroke="#000" stroke-width="3.4"/><path d="M1236 1388H1300C1330 1388 1345 1394 1362 1392" fill="none" stroke="#fff" stroke-width="1.8"/><path d="M1236 1392C1290 1392 1330 1398 1370 1398C1400 1398 1412 1385 1418 1365" fill="none" stroke="#000" stroke-width="3.4"/><path d="M1236 1392C1290 1392 1330 1398 1370 1398C1400 1398 1412 1385 1418 1365" fill="none" stroke="#fff" stroke-width="1.8"/><path d="M1236 1385H1262C1290 1380 1300 1350 1318 1320C1330 1298 1345 1292 1362 1290" fill="none" stroke="#000" stroke-width="3.4"/><path d="M1236 1385H1262C1290 1380 1300 1350 1318 1320C1330 1298 1345 1292 1362 1290" fill="none" stroke="#fff" stroke-width="1.8"/><path d="M1240 1390H1268C1296 1384 1306 1352 1324 1324C1338 1302 1352 1297 1370 1292" fill="none" stroke="#000" stroke-width="3.4"/><path d="M1240 1390H1268C1296 1384 1306 1352 1324 1324C1338 1302 1352 1297 1370 1292" fill="none" stroke="#fff" stroke-width="1.8"/><path d="M1280 1386C1310 1372 1330 1370 1352 1368" fill="none" stroke="#000" stroke-width="3.4"/><path d="M1280 1386C1310 1372 1330 1370 1352 1368" fill="none" stroke="#fff" stroke-width="1.8"/><path d="M1290 1390C1320 1378 1338 1376 1356 1375" fill="none" stroke="#000" stroke-width="3.4"/><path d="M1290 1390C1320 1378 1338 1376 1356 1375" fill="none" stroke="#fff" stroke-width="1.8"/><path d="M1236 1396C1300 1396 1340 1402 1365 1402" fill="none" stroke="#000" stroke-width="3.4"/><path d="M1236 1396C1300 1396 1340 1402 1365 1402" fill="none" stroke="#fff" stroke-width="1.8"/><rect class="wo" x="1255.5" y="1384" width="3" height="14" rx="1"/><g clip-path="url(#tvc)"><path d="M1353 1226.7 C1352 1262.9 1360 1282.9 1375 1284.9 C1395 1282.9 1410 1267.9 1418 1254.9" fill="none" stroke="#000" stroke-width="3.8"/><path d="M1353 1226.7 C1352 1262.9 1360 1282.9 1375 1284.9 C1395 1282.9 1410 1267.9 1418 1254.9" fill="none" stroke="#fff" stroke-width="2.1"/></g><g clip-path="url(#tvc)"><path d="M1356 1233.7 C1356 1257.9 1366 1276.9 1380 1278.9 C1398 1276.9 1412 1264.9 1419 1257.9" fill="none" stroke="#000" stroke-width="3.8"/><path d="M1356 1233.7 C1356 1257.9 1366 1276.9 1380 1278.9 C1398 1276.9 1412 1264.9 1419 1257.9" fill="none" stroke="#fff" stroke-width="2.1"/></g><g clip-path="url(#tvc)"><path d="M1362 1252.9 C1366 1264.9 1378 1272.9 1392 1272.9 C1402 1270.9 1410 1264.9 1417 1260.9" fill="none" stroke="#000" stroke-width="3.8"/><path d="M1362 1252.9 C1366 1264.9 1378 1272.9 1392 1272.9 C1402 1270.9 1410 1264.9 1417 1260.9" fill="none" stroke="#fff" stroke-width="2.1"/></g><g clip-path="url(#tvc)"><path d="M1370 1252.9 C1376 1262.9 1386 1267.9 1398 1266.9 C1406 1264.9 1414 1260.9 1418 1256.9" fill="none" stroke="#000" stroke-width="3.8"/><path d="M1370 1252.9 C1376 1262.9 1386 1267.9 1398 1266.9 C1406 1264.9 1414 1260.9 1418 1256.9" fill="none" stroke="#fff" stroke-width="2.1"/></g><g clip-path="url(#tvc)"><path d="M1380 1252.9 C1386 1260.9 1392 1262.9 1402 1261.9" fill="none" stroke="#000" stroke-width="3.8"/><path d="M1380 1252.9 C1386 1260.9 1392 1262.9 1402 1261.9" fill="none" stroke="#fff" stroke-width="2.1"/></g><g clip-path="url(#tvc)"><path d="M1358 1244.9 C1358 1266.9 1370 1288.9 1384 1289.9 C1400 1288.9 1412 1272.9 1420 1262.9" fill="none" stroke="#000" stroke-width="3.8"/><path d="M1358 1244.9 C1358 1266.9 1370 1288.9 1384 1289.9 C1400 1288.9 1412 1272.9 1420 1262.9" fill="none" stroke="#fff" stroke-width="2.1"/></g><rect class="wo" x="1352" y="1220.7" width="3" height="12"/><g clip-path="url(#tvc)"><path d="M1353 1326.1 C1352 1362.3 1360 1382.3 1375 1384.3 C1395 1382.3 1410 1367.3 1418 1354.3" fill="none" stroke="#000" stroke-width="3.8"/><path d="M1353 1326.1 C1352 1362.3 1360 1382.3 1375 1384.3 C1395 1382.3 1410 1367.3 1418 1354.3" fill="none" stroke="#fff" stroke-width="2.1"/></g><g clip-path="url(#tvc)"><path d="M1356 1333.1 C1356 1357.3 1366 1376.3 1380 1378.3 C1398 1376.3 1412 1364.3 1419 1357.3" fill="none" stroke="#000" stroke-width="3.8"/><path d="M1356 1333.1 C1356 1357.3 1366 1376.3 1380 1378.3 C1398 1376.3 1412 1364.3 1419 1357.3" fill="none" stroke="#fff" stroke-width="2.1"/></g><g clip-path="url(#tvc)"><path d="M1362 1352.3 C1366 1364.3 1378 1372.3 1392 1372.3 C1402 1370.3 1410 1364.3 1417 1360.3" fill="none" stroke="#000" stroke-width="3.8"/><path d="M1362 1352.3 C1366 1364.3 1378 1372.3 1392 1372.3 C1402 1370.3 1410 1364.3 1417 1360.3" fill="none" stroke="#fff" stroke-width="2.1"/></g><g clip-path="url(#tvc)"><path d="M1370 1352.3 C1376 1362.3 1386 1367.3 1398 1366.3 C1406 1364.3 1414 1360.3 1418 1356.3" fill="none" stroke="#000" stroke-width="3.8"/><path d="M1370 1352.3 C1376 1362.3 1386 1367.3 1398 1366.3 C1406 1364.3 1414 1360.3 1418 1356.3" fill="none" stroke="#fff" stroke-width="2.1"/></g><g clip-path="url(#tvc)"><path d="M1380 1352.3 C1386 1360.3 1392 1362.3 1402 1361.3" fill="none" stroke="#000" stroke-width="3.8"/><path d="M1380 1352.3 C1386 1360.3 1392 1362.3 1402 1361.3" fill="none" stroke="#fff" stroke-width="2.1"/></g><g clip-path="url(#tvc)"><path d="M1358 1344.3 C1358 1366.3 1370 1388.3 1384 1389.3 C1400 1388.3 1412 1372.3 1420 1362.3" fill="none" stroke="#000" stroke-width="3.8"/><path d="M1358 1344.3 C1358 1366.3 1370 1388.3 1384 1389.3 C1400 1388.3 1412 1372.3 1420 1362.3" fill="none" stroke="#fff" stroke-width="2.1"/></g><rect class="wo" x="1352" y="1320.1" width="3" height="12"/><g clip-path="url(#tvc)"><path d="M1353 1426.7 C1352 1461.5 1360 1481.5 1375 1483.5 C1395 1481.5 1410 1466.5 1418 1453.5" fill="none" stroke="#000" stroke-width="3.8"/><path d="M1353 1426.7 C1352 1461.5 1360 1481.5 1375 1483.5 C1395 1481.5 1410 1466.5 1418 1453.5" fill="none" stroke="#fff" stroke-width="2.1"/></g><g clip-path="url(#tvc)"><path d="M1356 1433.7 C1356 1456.5 1366 1475.5 1380 1477.5 C1398 1475.5 1412 1463.5 1419 1456.5" fill="none" stroke="#000" stroke-width="3.8"/><path d="M1356 1433.7 C1356 1456.5 1366 1475.5 1380 1477.5 C1398 1475.5 1412 1463.5 1419 1456.5" fill="none" stroke="#fff" stroke-width="2.1"/></g><g clip-path="url(#tvc)"><path d="M1362 1451.5 C1366 1463.5 1378 1471.5 1392 1471.5 C1402 1469.5 1410 1463.5 1417 1459.5" fill="none" stroke="#000" stroke-width="3.8"/><path d="M1362 1451.5 C1366 1463.5 1378 1471.5 1392 1471.5 C1402 1469.5 1410 1463.5 1417 1459.5" fill="none" stroke="#fff" stroke-width="2.1"/></g><g clip-path="url(#tvc)"><path d="M1370 1451.5 C1376 1461.5 1386 1466.5 1398 1465.5 C1406 1463.5 1414 1459.5 1418 1455.5" fill="none" stroke="#000" stroke-width="3.8"/><path d="M1370 1451.5 C1376 1461.5 1386 1466.5 1398 1465.5 C1406 1463.5 1414 1459.5 1418 1455.5" fill="none" stroke="#fff" stroke-width="2.1"/></g><g clip-path="url(#tvc)"><path d="M1380 1451.5 C1386 1459.5 1392 1461.5 1402 1460.5" fill="none" stroke="#000" stroke-width="3.8"/><path d="M1380 1451.5 C1386 1459.5 1392 1461.5 1402 1460.5" fill="none" stroke="#fff" stroke-width="2.1"/></g><g clip-path="url(#tvc)"><path d="M1358 1443.5 C1358 1465.5 1370 1487.5 1384 1488.5 C1400 1487.5 1412 1471.5 1420 1461.5" fill="none" stroke="#000" stroke-width="3.8"/><path d="M1358 1443.5 C1358 1465.5 1370 1487.5 1384 1488.5 C1400 1487.5 1412 1471.5 1420 1461.5" fill="none" stroke="#fff" stroke-width="2.1"/></g><rect class="wo" x="1352" y="1420.7" width="3" height="12"/><rect class="wo" x="1387.9" y="1198.8" width="45.3" height="9.9"/><rect class="wo" x="1361.4" y="1208.7" width="71.8" height="44.2"/><path class="h" d="M1387.9 1198.8L1387.9 1256.4"/><path class="o" d="M1387.9 1201.8L1433.2 1201.8"/><circle class="o" cx="1392.5" cy="1205.3" r="1.4"/><rect class="o" x="1421" y="1252.9" width="12" height="14"/><path class="o" d="M1428 1256.9q4 4 2 10q-3 4 -1 8"/><rect class="wo" x="1387.9" y="1298.2" width="45.3" height="9.9"/><rect class="wo" x="1361.4" y="1308.1" width="71.8" height="44.2"/><path class="h" d="M1387.9 1298.2L1387.9 1355.8"/><path class="o" d="M1387.9 1301.2L1433.2 1301.2"/><circle class="o" cx="1392.5" cy="1304.7" r="1.4"/><rect class="o" x="1421" y="1352.3" width="12" height="14"/><path class="o" d="M1428 1356.3q4 4 2 10q-3 4 -1 8"/><rect class="wo" x="1387.9" y="1397.3" width="45.3" height="11.4"/><rect class="wo" x="1361.4" y="1408.7" width="71.8" height="42.8"/><path class="h" d="M1387.9 1397.3L1387.9 1457.5"/><path class="o" d="M1387.9 1400.3L1433.2 1400.3"/><circle class="o" cx="1392.5" cy="1403.8" r="1.4"/><rect class="o" x="1421" y="1451.5" width="12" height="14"/><path class="o" d="M1428 1455.5q4 4 2 10q-3 4 -1 8"/><rect class="k" x="1008.7" y="1166.8" width="424.4" height="22.6"/><rect x="1008.7" y="1177.4" width="424.4" height="1.5" fill="#fff"/><rect x="1051.8" y="1168.3" width="2.6" height="21.1" fill="#fff"/><rect x="1085.4" y="1168.3" width="2.6" height="21.1" fill="#fff"/><rect x="1119" y="1168.3" width="2.6" height="21.1" fill="#fff"/><rect x="1152.6" y="1168.3" width="2.6" height="21.1" fill="#fff"/><rect x="1186.2" y="1168.3" width="2.6" height="21.1" fill="#fff"/><rect x="1219.8" y="1168.3" width="2.6" height="21.1" fill="#fff"/><rect x="1253.4" y="1168.3" width="2.6" height="21.1" fill="#fff"/><rect x="1287" y="1168.3" width="2.6" height="21.1" fill="#fff"/><rect x="1320.6" y="1168.3" width="2.6" height="21.1" fill="#fff"/><rect x="1354.2" y="1168.3" width="2.6" height="21.1" fill="#fff"/><rect x="1387.8" y="1168.3" width="2.6" height="21.1" fill="#fff"/><rect x="999" y="1167.8" width="9.7" height="20.6" fill="#fff" stroke="#111" stroke-width=".8"/><rect x="1433.1" y="1167.8" width="9" height="20.6" fill="#fff" stroke="#111" stroke-width=".8"/><rect class="k" x="1008.7" y="1477.6" width="424.4" height="23.1"/><rect x="1008.7" y="1488.5" width="424.4" height="1.5" fill="#fff"/><rect x="1051.8" y="1479.1" width="2.6" height="21.6" fill="#fff"/><rect x="1085.4" y="1479.1" width="2.6" height="21.6" fill="#fff"/><rect x="1119" y="1479.1" width="2.6" height="21.6" fill="#fff"/><rect x="1152.6" y="1479.1" width="2.6" height="21.6" fill="#fff"/><rect x="1186.2" y="1479.1" width="2.6" height="21.6" fill="#fff"/><rect x="1219.8" y="1479.1" width="2.6" height="21.6" fill="#fff"/><rect x="1253.4" y="1479.1" width="2.6" height="21.6" fill="#fff"/><rect x="1287" y="1479.1" width="2.6" height="21.6" fill="#fff"/><rect x="1320.6" y="1479.1" width="2.6" height="21.6" fill="#fff"/><rect x="1354.2" y="1479.1" width="2.6" height="21.6" fill="#fff"/><rect x="1387.8" y="1479.1" width="2.6" height="21.6" fill="#fff"/><rect x="999" y="1478.6" width="9.7" height="21.1" fill="#fff" stroke="#111" stroke-width=".8"/><rect x="1433.1" y="1478.6" width="9" height="21.1" fill="#fff" stroke="#111" stroke-width=".8"/><rect class="wo" x="1036.3" y="1163.5" width="2.4" height="6"/><rect class="wo" x="1036.3" y="1498" width="2.4" height="6"/><rect class="wo" x="1158.3" y="1163.5" width="2.4" height="6"/><rect class="wo" x="1158.3" y="1498" width="2.4" height="6"/><rect class="wo" x="1280.3" y="1163.5" width="2.4" height="6"/><rect class="wo" x="1280.3" y="1498" width="2.4" height="6"/><rect class="wo" x="1402.3" y="1163.5" width="2.4" height="6"/><rect class="wo" x="1402.3" y="1498" width="2.4" height="6"/><path class="d" d="M954.2 1409.8H966Q975 1409.8 985 1407.5L1133.8 1372.1"/><text x="942.2" y="1414.9" font-size="20" text-anchor="middle">B</text><rect class="d" x="1475.6" y="1058.2" width="172.5" height="83.3"/><path class="l" d="M1512.9 1141.5L1377.6 1256"/><clipPath id="gsc"><rect x="1475.6" y="1058.2" width="172.5" height="83.3"/></clipPath><g clip-path="url(#gsc)"><path class="o" d="M1586 1058C1590 1090 1602 1120 1622 1142M1614 1058C1618 1085 1630 1112 1650 1132M1621 1058C1625 1083 1636 1106 1650 1122"/><rect class="o" x="1630" y="1089" width="20" height="14"/><path class="o" d="M1624 1085L1630 1089"/><path class="o" d="M1624 1107L1630 1103"/><path class="wo" d="M1570 1080L1590 1082L1600 1110L1575 1113Z"/></g><rect class="o" x="1490.7" y="1078.6" width="34.2" height="38.6" rx="5"/><rect class="t" x="1492.5" y="1080.4" width="30.6" height="35" rx="4"/><circle class="o" cx="1508" cy="1097.2" r="13.3"/><path class="m" d="M1508 1087.5L1508 1100.5"/><path class="m" d="M1500 1100.5L1516 1100.5"/><path class="m" d="M1502.5 1103.5L1513.5 1103.5"/><path class="m" d="M1505 1106.5L1511 1106.5"/><circle cx="1561.7" cy="1097.2" r="16.8" fill="#fff" stroke="#111" stroke-width="2.2" stroke-dasharray="3.2 1.6"/><circle class="wo" cx="1561.7" cy="1097.2" r="15.4"/><circle class="o" cx="1561.7" cy="1097.2" r="9.8"/><circle class="o" cx="1561.7" cy="1097.2" r="6.7"/><text x="1345.7" y="1041.3" font-size="16.5" textLength="172.9" lengthAdjust="spacingAndGlyphs">1/4-20 GROUND STUD</text><path class="l" d="M1519.5 1035.6L1539.5 1035.6L1557.2 1085.2"/><path class="a" d="M1557.2 1085.2L1550 1074L1555.7 1071.9Z"/><text x="1218.9" y="1567.7" font-size="19.5" text-anchor="middle" textLength="84.2" lengthAdjust="spacingAndGlyphs">TOP VIEW</text><text x="1230.2" y="1589.4" font-size="20.8" font-weight="bold" text-anchor="middle">(WITH OUT TOP PANEL)</text></g>
<g id="notes"><text x="1553" y="1319.7" font-size="20.8" font-weight="bold">NOTES:</text><text x="1553" y="1360.7" font-size="20.8" font-weight="bold" xml:space="preserve">1.  TERMINAL SCREW TIGHTENING TORQUE:  16 IN/LBS</text><text x="1553" y="1382" font-size="20.8" font-weight="bold" xml:space="preserve">2.  WIRE RANGE:  4 - 14 AWG</text></g>
<g id="titleblock"><style>.tb{fill:none;stroke:#4d4d55;stroke-width:1.25}</style><path class="tb" d="M1550.9 1603.5L1550.9 1397.6L2507.3 1397.6"/><path class="tb" d="M1550.9 1434.6L1944.5 1434.6"/><path class="tb" d="M1550.9 1457.2L1944.5 1457.2"/><path class="tb" d="M1738.6 1457.2L1738.6 1603.5"/><path class="tb" d="M1944.5 1397.6L1944.5 1603.5"/><path class="tb" d="M2032.4 1397.6L2032.4 1603.5"/><path class="tb" d="M2132.5 1397.6L2132.5 1603.5"/><path class="tb" d="M1944.5 1448.3L2132.5 1448.3"/><path class="tb" d="M1944.5 1499.9L2132.5 1499.9"/><path class="tb" d="M1944.5 1551.4L2132.5 1551.4"/><path class="tb" d="M2132.5 1453.1L2507.3 1453.1"/><path class="tb" d="M2132.5 1547.3L2507.3 1547.3"/><path class="tb" d="M2132.5 1585.4L2507.3 1585.4"/><path class="tb" d="M2173.9 1547.3L2173.9 1585.4"/><path class="tb" d="M2422.8 1547.3L2422.8 1585.4"/><path class="tb" d="M2200 1585.4L2200 1603.5"/><path class="tb" d="M2370 1585.4L2370 1603.5"/><text x="1747.8" y="1417.1" font-size="9.9" font-weight="bold" text-anchor="middle" textLength="352.8" lengthAdjust="spacingAndGlyphs">THE COMPONENT, PART OR ASSEMBLY DESCRIBED IN THIS DOCUMENT</text><text x="1747.8" y="1426.5" font-size="9.9" font-weight="bold" text-anchor="middle" textLength="327.8" lengthAdjust="spacingAndGlyphs">MUST COMPLY WITH THE EU(EUROPEAN UNION) DIRECTIVE RoHS2</text><text x="1582.9" y="1448.9" font-size="7.6" textLength="251.4" lengthAdjust="spacingAndGlyphs" style="fill:#444">CONTAINS &lt;0.1% OF ANY SVHC BY WEIGHT PER REACH REGULATION</text><text x="1645" y="1477.5" font-size="9.4" font-weight="bold" text-anchor="middle" textLength="149.5" lengthAdjust="spacingAndGlyphs">UNLESS OTHERWISE SPECIFIED</text><text x="1643.7" y="1487.1" font-size="9.4" font-weight="bold" text-anchor="middle" textLength="156.4" lengthAdjust="spacingAndGlyphs">DIMENSIONS ARE IN INCHES [MM]</text><text x="1645.2" y="1496.1" font-size="9.4" font-weight="bold" text-anchor="middle" textLength="89.3" lengthAdjust="spacingAndGlyphs">TOLERANCES ARE:</text><text x="1565.5" y="1516.8" font-size="10.6" textLength="68.6" lengthAdjust="spacingAndGlyphs" style="fill:#333">ANGLES: ± 1 °</text><text x="1565.5" y="1539.8" font-size="10.6" textLength="97.8" lengthAdjust="spacingAndGlyphs" style="fill:#333">1 PLACE .X: ± .1 [2.5]</text><text x="1565.5" y="1562.8" font-size="10.6" textLength="115.6" lengthAdjust="spacingAndGlyphs" style="fill:#333">2 PLACE .XX: ± .03 [0.76]</text><text x="1565.5" y="1585.8" font-size="10.6" textLength="133.8" lengthAdjust="spacingAndGlyphs" style="fill:#333">3 PLACE .XXX: ± .010 [0.254]</text><path fill="#c80000" d="M1759.5 1470.1L1785.8 1470.1L1790.7 1492L1809.1 1470.1L1835 1470.1L1822.7 1513.3L1806.5 1513.3L1813.5 1487.2L1792.4 1513.3L1777.9 1513.3L1771.8 1486.8L1763.9 1513.3L1747.8 1513.3Z"/><path fill="#c80000" d="M1836.8 1470.1L1889 1470.1L1885.1 1483.7L1866.6 1483.7L1858.3 1513.3L1842 1513.3L1850.4 1483.7L1833.3 1483.7Z"/><path fill="#c80000" d="M1891.2 1470.1L1938.2 1470.1L1934.9 1481.3L1904.2 1481.3L1902.9 1485.6L1933.6 1485.6L1930.4 1496L1900 1496L1898.3 1502L1929.4 1502L1926.1 1513.3L1878.9 1513.3Z"/><path fill="#bdbdbd" d="M1746.8 1517.2L1924 1517.2L1920.2 1529.8L1743.4 1529.8Z"/><text x="1750.3" y="1526.9" font-size="7.6" font-style="italic" textLength="137.8" lengthAdjust="spacingAndGlyphs" style="fill:#fff">POWER QUALITY. SOLVED.</text><text x="1815.7" y="1540.3" font-size="8.6" textLength="102.7" lengthAdjust="spacingAndGlyphs" style="fill:#c4c4c4">A STEEL PARTNERS COMPANY</text><text x="1840.4" y="1560.7" font-size="9.4" text-anchor="middle">N83 W13330 Leon Road</text><text x="1840.4" y="1570.1" font-size="9.4" text-anchor="middle">Menomonee Falls, WI 53051 USA</text><text x="1840.4" y="1579.5" font-size="9.4" text-anchor="middle">800.455-4683</text><text x="1840.4" y="1588.9" font-size="9.4" text-anchor="middle">262.253.8200</text><text x="1949.7" y="1408.1" font-size="8.4" font-weight="bold" textLength="48.5" lengthAdjust="spacingAndGlyphs">DRAWN BY:</text><text x="1949.7" y="1459.3" font-size="8.4" font-weight="bold" textLength="57.5" lengthAdjust="spacingAndGlyphs">CHECKED BY:</text><text x="1949.7" y="1510.9" font-size="8.4" font-weight="bold" textLength="77.8" lengthAdjust="spacingAndGlyphs">ME APPROVED BY:</text><text x="1948" y="1563.2" font-size="8.4" font-weight="bold" textLength="77" lengthAdjust="spacingAndGlyphs">RE APPROVED BY:</text><text x="1986.7" y="1432.6" font-size="11.5" text-anchor="middle" style="fill:#222">SG</text><text x="1987.3" y="1482.7" font-size="11.5" text-anchor="middle" style="fill:#222">WF</text><text x="1988.4" y="1535.2" font-size="12.5" text-anchor="middle">DP</text><text x="1986.3" y="1587.9" font-size="12.5" text-anchor="middle">JG</text><text x="2038" y="1408.3" font-size="7.8" textLength="18.7" lengthAdjust="spacingAndGlyphs" style="fill:#333">DATE</text><text x="2038" y="1458.8" font-size="7.8" textLength="18.7" lengthAdjust="spacingAndGlyphs" style="fill:#333">DATE</text><text x="2038" y="1510.5" font-size="7.8" textLength="18.7" lengthAdjust="spacingAndGlyphs" style="fill:#333">DATE</text><text x="2038" y="1561.6" font-size="7.8" textLength="18.7" lengthAdjust="spacingAndGlyphs" style="fill:#333">DATE</text><text x="2077.7" y="1432.1" font-size="12.4" text-anchor="middle">09/21/11</text><text x="2077.9" y="1482.6" font-size="12.4" text-anchor="middle">11/16/20</text><text x="2090.6" y="1535.4" font-size="12.4" text-anchor="middle">11/17/20</text><text x="2090.6" y="1588.2" font-size="12.4" text-anchor="middle">11/17/20</text><text x="2320.2" y="1415.5" font-size="10.5" font-weight="bold" text-anchor="middle" textLength="257.5" lengthAdjust="spacingAndGlyphs">CONFIDENTIAL AND PROPRIETARY INFORMATION</text><text x="2321.7" y="1424" font-size="8.4" text-anchor="middle" textLength="354.6" lengthAdjust="spacingAndGlyphs">THIS DOCUMENT CONTAINS CONFIDENTIAL AND PROPRIETARY INFORMATION OF MTE</text><text x="2320.7" y="1432.6" font-size="8.4" text-anchor="middle" textLength="348.8" lengthAdjust="spacingAndGlyphs">CORPORATION AND MAY NOT BE USED, COPIED OR DISCLOSED TO OTHERS EXCEPT</text><text x="2320.2" y="1441.2" font-size="8.4" text-anchor="middle" textLength="289.9" lengthAdjust="spacingAndGlyphs">WITH THE AUTHORIZED WRITTEN PERMISSION OF MTE CORPORATION</text><text x="2137.2" y="1467.8" font-size="10.3" font-weight="bold" textLength="70.5" lengthAdjust="spacingAndGlyphs">DESCRIPTION</text><text x="2303.1" y="1497.3" font-size="19" text-anchor="middle">MATRIX AP 1200A 480V 60HZ</text><text x="2303.1" y="1515.4" font-size="19" text-anchor="middle">FILTER, NEMA 3R ENCL</text><text x="2136.3" y="1557.8" font-size="8.2" font-weight="bold" textLength="17.6" lengthAdjust="spacingAndGlyphs">SIZE</text><text x="2159.6" y="1577.3" font-size="19" text-anchor="middle">D</text><text x="2181" y="1559.2" font-size="8.8" font-weight="bold" textLength="40.5" lengthAdjust="spacingAndGlyphs">DWG No.</text><text x="2294.5" y="1577.3" font-size="18.5" text-anchor="middle">CD MAPW1200D</text><text x="2430.5" y="1558" font-size="7.6" textLength="13.5" lengthAdjust="spacingAndGlyphs" style="fill:#333">REV</text><text x="2463.7" y="1576.8" font-size="18" text-anchor="middle">08</text><text x="2136.3" y="1594" font-size="8.2" font-weight="bold" textLength="27.1" lengthAdjust="spacingAndGlyphs">SCALE</text><text x="2184.5" y="1599.7" font-size="11.5" text-anchor="middle" style="fill:#222">1:8</text><text x="2277.8" y="1598.7" font-size="16" text-anchor="middle">Sheet1</text><text x="2397.6" y="1598.7" font-size="8.2" textLength="57.1" lengthAdjust="spacingAndGlyphs" style="fill:#333">SHEET 1 OF 1</text></g></svg></body></html>
